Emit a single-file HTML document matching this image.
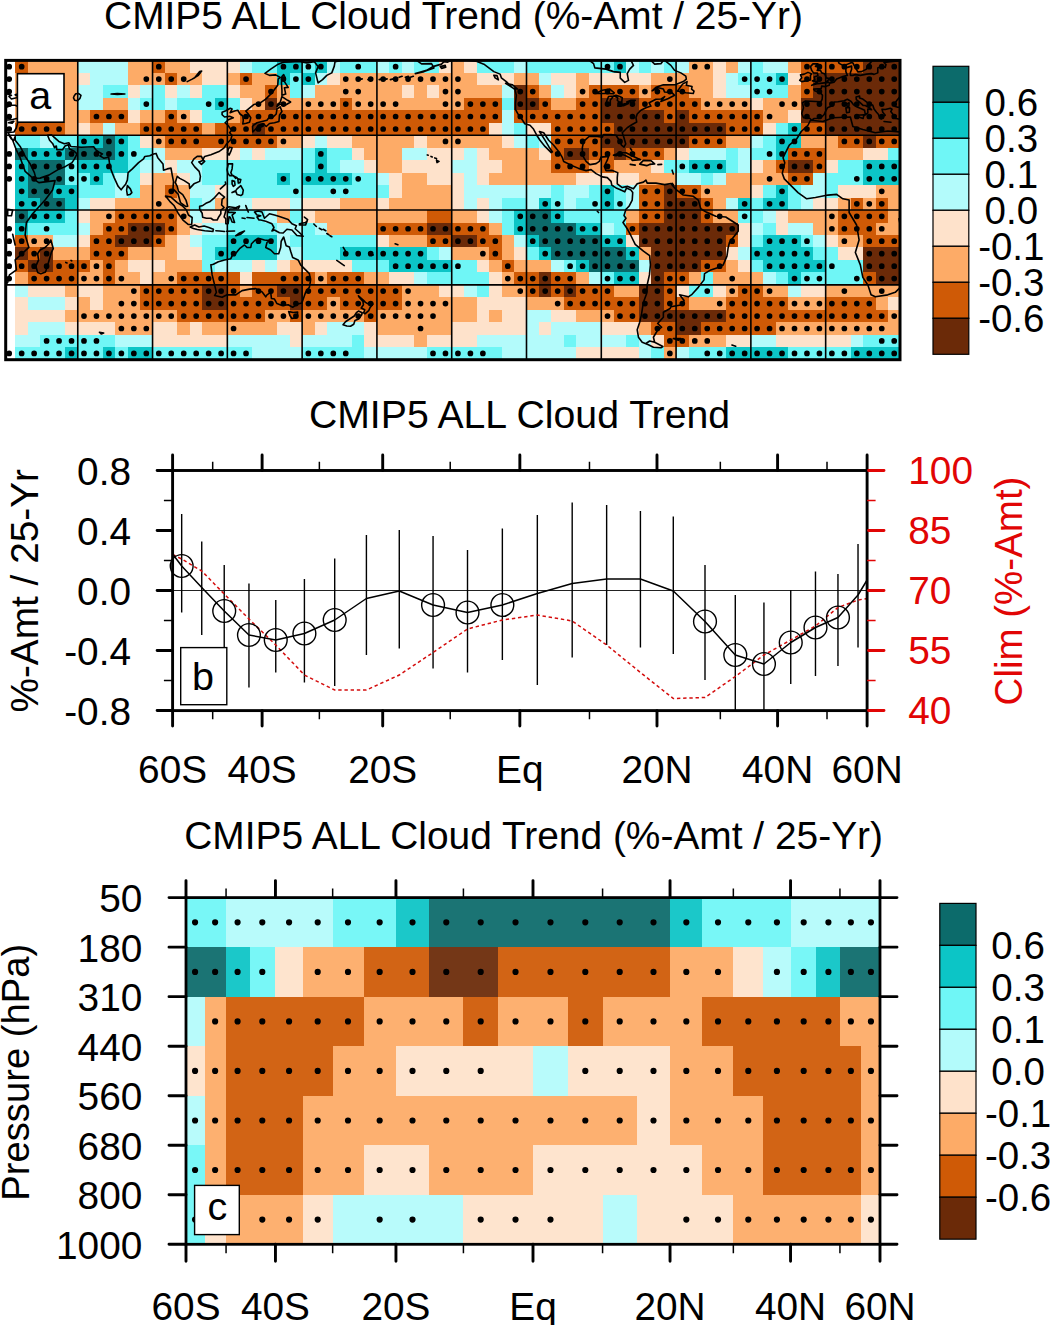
<!DOCTYPE html>
<html><head><meta charset="utf-8"><title>CMIP5 ALL Cloud Trend</title>
<style>html,body{margin:0;padding:0;background:#fff}body{width:1050px;height:1325px;overflow:hidden}svg{display:block}text{font-family:"Liberation Sans",sans-serif;fill:#000}</style></head><body>
<svg width="1050" height="1325" viewBox="0 0 1050 1325">
<rect width="1050" height="1325" fill="#fff"/>
<defs><clipPath id="ca"><rect x="5.7" y="60.4" width="894.3" height="299.3"/></clipPath>
</defs>
<g clip-path="url(#ca)">
<g shape-rendering="crispEdges">
<rect x="15.44" y="60.4" width="12.76" height="12.77" fill="#cf5a06"/>
<rect x="27.9" y="60.4" width="50.16" height="12.77" fill="#fdab67"/>
<rect x="77.76" y="60.4" width="50.16" height="12.77" fill="#b3fbfb"/>
<rect x="127.62" y="60.4" width="25.23" height="12.77" fill="#fdab67"/>
<rect x="152.55" y="60.4" width="12.77" height="12.77" fill="#cf5a06"/>
<rect x="165.01" y="60.4" width="25.23" height="12.77" fill="#fdab67"/>
<rect x="189.94" y="60.4" width="50.16" height="12.77" fill="#fee2cb"/>
<rect x="239.81" y="60.4" width="12.77" height="12.77" fill="#b3fbfb"/>
<rect x="252.27" y="60.4" width="25.23" height="12.77" fill="#6ff6f6"/>
<rect x="277.2" y="60.4" width="25.23" height="12.77" fill="#0cc5c6"/>
<rect x="302.13" y="60.4" width="12.77" height="12.77" fill="#6ff6f6"/>
<rect x="314.6" y="60.4" width="12.76" height="12.77" fill="#0cc5c6"/>
<rect x="327.06" y="60.4" width="12.77" height="12.77" fill="#b3fbfb"/>
<rect x="339.53" y="60.4" width="37.69" height="12.77" fill="#6ff6f6"/>
<rect x="376.92" y="60.4" width="12.77" height="12.77" fill="#b3fbfb"/>
<rect x="389.39" y="60.4" width="12.76" height="12.77" fill="#6ff6f6"/>
<rect x="401.85" y="60.4" width="12.76" height="12.77" fill="#b3fbfb"/>
<rect x="414.31" y="60.4" width="25.23" height="12.77" fill="#6ff6f6"/>
<rect x="439.25" y="60.4" width="12.77" height="12.77" fill="#fee2cb"/>
<rect x="451.71" y="60.4" width="12.76" height="12.77" fill="#fdab67"/>
<rect x="464.18" y="60.4" width="12.77" height="12.77" fill="#fee2cb"/>
<rect x="476.64" y="60.4" width="37.69" height="12.77" fill="#6ff6f6"/>
<rect x="514.03" y="60.4" width="12.77" height="12.77" fill="#b3fbfb"/>
<rect x="526.5" y="60.4" width="87.55" height="12.77" fill="#6ff6f6"/>
<rect x="613.75" y="60.4" width="12.77" height="12.77" fill="#0cc5c6"/>
<rect x="626.22" y="60.4" width="12.77" height="12.77" fill="#b3fbfb"/>
<rect x="638.69" y="60.4" width="12.76" height="12.77" fill="#6ff6f6"/>
<rect x="651.15" y="60.4" width="12.77" height="12.77" fill="#b3fbfb"/>
<rect x="663.62" y="60.4" width="12.77" height="12.77" fill="#6ff6f6"/>
<rect x="676.08" y="60.4" width="12.77" height="12.77" fill="#b3fbfb"/>
<rect x="688.55" y="60.4" width="25.23" height="12.77" fill="#fdab67"/>
<rect x="713.48" y="60.4" width="12.77" height="12.77" fill="#fee2cb"/>
<rect x="725.94" y="60.4" width="12.76" height="12.77" fill="#fdab67"/>
<rect x="738.4" y="60.4" width="12.77" height="12.77" fill="#b3fbfb"/>
<rect x="750.87" y="60.4" width="12.77" height="12.77" fill="#6ff6f6"/>
<rect x="763.34" y="60.4" width="25.23" height="12.77" fill="#b3fbfb"/>
<rect x="788.26" y="60.4" width="12.77" height="12.77" fill="#fdab67"/>
<rect x="800.73" y="60.4" width="62.63" height="12.77" fill="#cf5a06"/>
<rect x="863.06" y="60.4" width="37.69" height="12.77" fill="#6b2a08"/>
<rect x="15.44" y="72.87" width="62.62" height="12.77" fill="#fdab67"/>
<rect x="77.76" y="72.87" width="12.77" height="12.77" fill="#fee2cb"/>
<rect x="90.22" y="72.87" width="37.7" height="12.77" fill="#b3fbfb"/>
<rect x="127.62" y="72.87" width="37.69" height="12.77" fill="#fdab67"/>
<rect x="165.01" y="72.87" width="12.77" height="12.77" fill="#cf5a06"/>
<rect x="177.48" y="72.87" width="25.23" height="12.77" fill="#fdab67"/>
<rect x="202.41" y="72.87" width="25.23" height="12.77" fill="#fee2cb"/>
<rect x="227.34" y="72.87" width="12.77" height="12.77" fill="#fdab67"/>
<rect x="239.81" y="72.87" width="12.77" height="12.77" fill="#cf5a06"/>
<rect x="252.27" y="72.87" width="25.23" height="12.77" fill="#fdab67"/>
<rect x="277.2" y="72.87" width="12.76" height="12.77" fill="#0cc5c6"/>
<rect x="289.67" y="72.87" width="12.76" height="12.77" fill="#6ff6f6"/>
<rect x="302.13" y="72.87" width="12.77" height="12.77" fill="#0cc5c6"/>
<rect x="314.6" y="72.87" width="12.76" height="12.77" fill="#b3fbfb"/>
<rect x="327.06" y="72.87" width="12.77" height="12.77" fill="#fee2cb"/>
<rect x="339.53" y="72.87" width="137.42" height="12.77" fill="#fdab67"/>
<rect x="476.64" y="72.87" width="37.69" height="12.77" fill="#fee2cb"/>
<rect x="514.03" y="72.87" width="25.23" height="12.77" fill="#fdab67"/>
<rect x="538.97" y="72.87" width="12.77" height="12.77" fill="#b3fbfb"/>
<rect x="551.43" y="72.87" width="25.23" height="12.77" fill="#fee2cb"/>
<rect x="576.36" y="72.87" width="12.77" height="12.77" fill="#fdab67"/>
<rect x="588.83" y="72.87" width="62.62" height="12.77" fill="#fee2cb"/>
<rect x="651.15" y="72.87" width="62.63" height="12.77" fill="#fdab67"/>
<rect x="713.48" y="72.87" width="12.77" height="12.77" fill="#fee2cb"/>
<rect x="725.94" y="72.87" width="12.76" height="12.77" fill="#b3fbfb"/>
<rect x="738.4" y="72.87" width="37.7" height="12.77" fill="#6ff6f6"/>
<rect x="775.8" y="72.87" width="12.76" height="12.77" fill="#0cc5c6"/>
<rect x="788.26" y="72.87" width="12.77" height="12.77" fill="#fee2cb"/>
<rect x="800.73" y="72.87" width="12.77" height="12.77" fill="#cf5a06"/>
<rect x="813.2" y="72.87" width="87.55" height="12.77" fill="#6b2a08"/>
<rect x="15.44" y="85.34" width="62.62" height="12.77" fill="#fdab67"/>
<rect x="77.76" y="85.34" width="25.23" height="12.77" fill="#b3fbfb"/>
<rect x="102.69" y="85.34" width="25.23" height="12.77" fill="#6ff6f6"/>
<rect x="127.62" y="85.34" width="12.77" height="12.77" fill="#fee2cb"/>
<rect x="140.09" y="85.34" width="12.76" height="12.77" fill="#b3fbfb"/>
<rect x="152.55" y="85.34" width="12.77" height="12.77" fill="#6ff6f6"/>
<rect x="165.01" y="85.34" width="12.77" height="12.77" fill="#fee2cb"/>
<rect x="177.48" y="85.34" width="12.77" height="12.77" fill="#b3fbfb"/>
<rect x="189.94" y="85.34" width="12.77" height="12.77" fill="#fee2cb"/>
<rect x="202.41" y="85.34" width="25.23" height="12.77" fill="#6ff6f6"/>
<rect x="227.34" y="85.34" width="12.77" height="12.77" fill="#fee2cb"/>
<rect x="239.81" y="85.34" width="25.23" height="12.77" fill="#fdab67"/>
<rect x="264.74" y="85.34" width="12.77" height="12.77" fill="#cf5a06"/>
<rect x="277.2" y="85.34" width="12.76" height="12.77" fill="#fdab67"/>
<rect x="289.67" y="85.34" width="12.76" height="12.77" fill="#6ff6f6"/>
<rect x="302.13" y="85.34" width="12.77" height="12.77" fill="#b3fbfb"/>
<rect x="314.6" y="85.34" width="87.55" height="12.77" fill="#fdab67"/>
<rect x="401.85" y="85.34" width="12.76" height="12.77" fill="#fee2cb"/>
<rect x="414.31" y="85.34" width="12.77" height="12.77" fill="#fdab67"/>
<rect x="426.78" y="85.34" width="12.76" height="12.77" fill="#fee2cb"/>
<rect x="439.25" y="85.34" width="62.63" height="12.77" fill="#fdab67"/>
<rect x="501.57" y="85.34" width="12.76" height="12.77" fill="#b3fbfb"/>
<rect x="514.03" y="85.34" width="12.77" height="12.77" fill="#6b2a08"/>
<rect x="526.5" y="85.34" width="12.77" height="12.77" fill="#cf5a06"/>
<rect x="538.97" y="85.34" width="12.77" height="12.77" fill="#fdab67"/>
<rect x="551.43" y="85.34" width="12.76" height="12.77" fill="#b3fbfb"/>
<rect x="563.89" y="85.34" width="12.77" height="12.77" fill="#fee2cb"/>
<rect x="576.36" y="85.34" width="12.77" height="12.77" fill="#fdab67"/>
<rect x="588.83" y="85.34" width="50.16" height="12.77" fill="#cf5a06"/>
<rect x="638.69" y="85.34" width="12.76" height="12.77" fill="#fdab67"/>
<rect x="651.15" y="85.34" width="37.7" height="12.77" fill="#cf5a06"/>
<rect x="688.55" y="85.34" width="25.23" height="12.77" fill="#fdab67"/>
<rect x="713.48" y="85.34" width="12.77" height="12.77" fill="#fee2cb"/>
<rect x="725.94" y="85.34" width="25.23" height="12.77" fill="#b3fbfb"/>
<rect x="750.87" y="85.34" width="37.69" height="12.77" fill="#6ff6f6"/>
<rect x="788.26" y="85.34" width="12.77" height="12.77" fill="#fdab67"/>
<rect x="800.73" y="85.34" width="12.77" height="12.77" fill="#cf5a06"/>
<rect x="813.2" y="85.34" width="87.55" height="12.77" fill="#6b2a08"/>
<rect x="15.44" y="97.81" width="62.62" height="12.77" fill="#fdab67"/>
<rect x="77.76" y="97.81" width="25.23" height="12.77" fill="#b3fbfb"/>
<rect x="102.69" y="97.81" width="25.23" height="12.77" fill="#fdab67"/>
<rect x="127.62" y="97.81" width="12.77" height="12.77" fill="#b3fbfb"/>
<rect x="140.09" y="97.81" width="25.23" height="12.77" fill="#6ff6f6"/>
<rect x="165.01" y="97.81" width="12.77" height="12.77" fill="#b3fbfb"/>
<rect x="177.48" y="97.81" width="37.7" height="12.77" fill="#6ff6f6"/>
<rect x="214.88" y="97.81" width="12.77" height="12.77" fill="#0cc5c6"/>
<rect x="227.34" y="97.81" width="12.77" height="12.77" fill="#6ff6f6"/>
<rect x="239.81" y="97.81" width="12.77" height="12.77" fill="#fee2cb"/>
<rect x="252.27" y="97.81" width="12.77" height="12.77" fill="#fdab67"/>
<rect x="264.74" y="97.81" width="12.77" height="12.77" fill="#6b2a08"/>
<rect x="277.2" y="97.81" width="62.62" height="12.77" fill="#fdab67"/>
<rect x="339.53" y="97.81" width="12.76" height="12.77" fill="#cf5a06"/>
<rect x="351.99" y="97.81" width="112.48" height="12.77" fill="#fdab67"/>
<rect x="464.18" y="97.81" width="37.7" height="12.77" fill="#cf5a06"/>
<rect x="501.57" y="97.81" width="12.76" height="12.77" fill="#6ff6f6"/>
<rect x="514.03" y="97.81" width="25.23" height="12.77" fill="#6b2a08"/>
<rect x="538.97" y="97.81" width="12.77" height="12.77" fill="#cf5a06"/>
<rect x="551.43" y="97.81" width="25.23" height="12.77" fill="#fdab67"/>
<rect x="576.36" y="97.81" width="25.23" height="12.77" fill="#cf5a06"/>
<rect x="601.29" y="97.81" width="37.7" height="12.77" fill="#6b2a08"/>
<rect x="638.69" y="97.81" width="62.62" height="12.77" fill="#cf5a06"/>
<rect x="701.01" y="97.81" width="50.16" height="12.77" fill="#fdab67"/>
<rect x="750.87" y="97.81" width="12.77" height="12.77" fill="#fee2cb"/>
<rect x="763.34" y="97.81" width="37.69" height="12.77" fill="#fdab67"/>
<rect x="800.73" y="97.81" width="100.02" height="12.77" fill="#6b2a08"/>
<rect x="15.44" y="110.28" width="75.09" height="12.77" fill="#fdab67"/>
<rect x="90.22" y="110.28" width="37.7" height="12.77" fill="#cf5a06"/>
<rect x="127.62" y="110.28" width="12.77" height="12.77" fill="#fee2cb"/>
<rect x="140.09" y="110.28" width="25.23" height="12.77" fill="#fdab67"/>
<rect x="165.01" y="110.28" width="12.77" height="12.77" fill="#cf5a06"/>
<rect x="177.48" y="110.28" width="12.77" height="12.77" fill="#fdab67"/>
<rect x="189.94" y="110.28" width="12.77" height="12.77" fill="#fee2cb"/>
<rect x="202.41" y="110.28" width="25.23" height="12.77" fill="#6ff6f6"/>
<rect x="227.34" y="110.28" width="12.77" height="12.77" fill="#fdab67"/>
<rect x="239.81" y="110.28" width="262.07" height="12.77" fill="#cf5a06"/>
<rect x="501.57" y="110.28" width="12.76" height="12.77" fill="#b3fbfb"/>
<rect x="514.03" y="110.28" width="87.55" height="12.77" fill="#cf5a06"/>
<rect x="601.29" y="110.28" width="62.63" height="12.77" fill="#6b2a08"/>
<rect x="663.62" y="110.28" width="12.77" height="12.77" fill="#cf5a06"/>
<rect x="676.08" y="110.28" width="12.77" height="12.77" fill="#6b2a08"/>
<rect x="688.55" y="110.28" width="75.09" height="12.77" fill="#cf5a06"/>
<rect x="763.34" y="110.28" width="25.23" height="12.77" fill="#fdab67"/>
<rect x="788.26" y="110.28" width="12.77" height="12.77" fill="#fee2cb"/>
<rect x="800.73" y="110.28" width="100.02" height="12.77" fill="#6b2a08"/>
<rect x="15.44" y="122.75" width="50.16" height="12.77" fill="#cf5a06"/>
<rect x="65.3" y="122.75" width="12.76" height="12.77" fill="#fdab67"/>
<rect x="77.76" y="122.75" width="12.77" height="12.77" fill="#fee2cb"/>
<rect x="90.22" y="122.75" width="12.77" height="12.77" fill="#fdab67"/>
<rect x="102.69" y="122.75" width="12.77" height="12.77" fill="#b3fbfb"/>
<rect x="115.16" y="122.75" width="25.23" height="12.77" fill="#fdab67"/>
<rect x="140.09" y="122.75" width="62.62" height="12.77" fill="#cf5a06"/>
<rect x="202.41" y="122.75" width="12.77" height="12.77" fill="#fdab67"/>
<rect x="214.88" y="122.75" width="37.7" height="12.77" fill="#cf5a06"/>
<rect x="252.27" y="122.75" width="12.77" height="12.77" fill="#6b2a08"/>
<rect x="264.74" y="122.75" width="224.67" height="12.77" fill="#cf5a06"/>
<rect x="489.11" y="122.75" width="12.77" height="12.77" fill="#fee2cb"/>
<rect x="501.57" y="122.75" width="12.76" height="12.77" fill="#b3fbfb"/>
<rect x="514.03" y="122.75" width="12.77" height="12.77" fill="#6ff6f6"/>
<rect x="526.5" y="122.75" width="25.23" height="12.77" fill="#fee2cb"/>
<rect x="551.43" y="122.75" width="62.62" height="12.77" fill="#cf5a06"/>
<rect x="613.75" y="122.75" width="112.49" height="12.77" fill="#6b2a08"/>
<rect x="725.94" y="122.75" width="37.69" height="12.77" fill="#cf5a06"/>
<rect x="763.34" y="122.75" width="12.77" height="12.77" fill="#fee2cb"/>
<rect x="775.8" y="122.75" width="12.76" height="12.77" fill="#6ff6f6"/>
<rect x="788.26" y="122.75" width="12.77" height="12.77" fill="#0cc5c6"/>
<rect x="800.73" y="122.75" width="25.23" height="12.77" fill="#cf5a06"/>
<rect x="825.66" y="122.75" width="75.09" height="12.77" fill="#6b2a08"/>
<rect x="15.44" y="135.22" width="25.23" height="12.77" fill="#6ff6f6"/>
<rect x="40.36" y="135.22" width="12.77" height="12.77" fill="#b3fbfb"/>
<rect x="52.83" y="135.22" width="25.23" height="12.77" fill="#6ff6f6"/>
<rect x="77.76" y="135.22" width="25.23" height="12.77" fill="#0cc5c6"/>
<rect x="102.69" y="135.22" width="12.77" height="12.77" fill="#0c6b6b"/>
<rect x="115.16" y="135.22" width="12.77" height="12.77" fill="#0cc5c6"/>
<rect x="127.62" y="135.22" width="12.77" height="12.77" fill="#6ff6f6"/>
<rect x="140.09" y="135.22" width="12.76" height="12.77" fill="#fee2cb"/>
<rect x="152.55" y="135.22" width="12.77" height="12.77" fill="#fdab67"/>
<rect x="165.01" y="135.22" width="112.49" height="12.77" fill="#cf5a06"/>
<rect x="277.2" y="135.22" width="25.23" height="12.77" fill="#fdab67"/>
<rect x="302.13" y="135.22" width="12.77" height="12.77" fill="#fee2cb"/>
<rect x="314.6" y="135.22" width="12.76" height="12.77" fill="#b3fbfb"/>
<rect x="327.06" y="135.22" width="25.23" height="12.77" fill="#fee2cb"/>
<rect x="351.99" y="135.22" width="62.62" height="12.77" fill="#fdab67"/>
<rect x="414.31" y="135.22" width="12.77" height="12.77" fill="#fee2cb"/>
<rect x="426.78" y="135.22" width="75.09" height="12.77" fill="#fdab67"/>
<rect x="501.57" y="135.22" width="12.76" height="12.77" fill="#fee2cb"/>
<rect x="514.03" y="135.22" width="12.77" height="12.77" fill="#b3fbfb"/>
<rect x="526.5" y="135.22" width="12.77" height="12.77" fill="#6ff6f6"/>
<rect x="538.97" y="135.22" width="12.77" height="12.77" fill="#b3fbfb"/>
<rect x="551.43" y="135.22" width="50.16" height="12.77" fill="#cf5a06"/>
<rect x="601.29" y="135.22" width="87.56" height="12.77" fill="#6b2a08"/>
<rect x="688.55" y="135.22" width="37.69" height="12.77" fill="#cf5a06"/>
<rect x="725.94" y="135.22" width="25.23" height="12.77" fill="#fdab67"/>
<rect x="750.87" y="135.22" width="12.77" height="12.77" fill="#b3fbfb"/>
<rect x="763.34" y="135.22" width="12.77" height="12.77" fill="#6ff6f6"/>
<rect x="775.8" y="135.22" width="25.23" height="12.77" fill="#0cc5c6"/>
<rect x="800.73" y="135.22" width="37.69" height="12.77" fill="#fdab67"/>
<rect x="838.12" y="135.22" width="25.23" height="12.77" fill="#cf5a06"/>
<rect x="863.06" y="135.22" width="12.76" height="12.77" fill="#6b2a08"/>
<rect x="875.52" y="135.22" width="25.23" height="12.77" fill="#cf5a06"/>
<rect x="15.44" y="147.69" width="12.76" height="12.77" fill="#0c6b6b"/>
<rect x="27.9" y="147.69" width="37.7" height="12.77" fill="#0cc5c6"/>
<rect x="65.3" y="147.69" width="50.16" height="12.77" fill="#0c6b6b"/>
<rect x="115.16" y="147.69" width="12.77" height="12.77" fill="#0cc5c6"/>
<rect x="127.62" y="147.69" width="25.23" height="12.77" fill="#6ff6f6"/>
<rect x="152.55" y="147.69" width="12.77" height="12.77" fill="#b3fbfb"/>
<rect x="165.01" y="147.69" width="37.7" height="12.77" fill="#fdab67"/>
<rect x="202.41" y="147.69" width="37.7" height="12.77" fill="#fee2cb"/>
<rect x="239.81" y="147.69" width="12.77" height="12.77" fill="#b3fbfb"/>
<rect x="252.27" y="147.69" width="12.77" height="12.77" fill="#fee2cb"/>
<rect x="264.74" y="147.69" width="37.69" height="12.77" fill="#b3fbfb"/>
<rect x="302.13" y="147.69" width="12.77" height="12.77" fill="#6ff6f6"/>
<rect x="314.6" y="147.69" width="12.76" height="12.77" fill="#0cc5c6"/>
<rect x="327.06" y="147.69" width="25.23" height="12.77" fill="#6ff6f6"/>
<rect x="351.99" y="147.69" width="12.77" height="12.77" fill="#fee2cb"/>
<rect x="364.46" y="147.69" width="37.69" height="12.77" fill="#fdab67"/>
<rect x="401.85" y="147.69" width="25.23" height="12.77" fill="#b3fbfb"/>
<rect x="426.78" y="147.69" width="37.69" height="12.77" fill="#fee2cb"/>
<rect x="464.18" y="147.69" width="12.77" height="12.77" fill="#b3fbfb"/>
<rect x="476.64" y="147.69" width="12.76" height="12.77" fill="#fee2cb"/>
<rect x="489.11" y="147.69" width="50.16" height="12.77" fill="#fdab67"/>
<rect x="538.97" y="147.69" width="12.77" height="12.77" fill="#fee2cb"/>
<rect x="551.43" y="147.69" width="12.76" height="12.77" fill="#cf5a06"/>
<rect x="563.89" y="147.69" width="25.23" height="12.77" fill="#6b2a08"/>
<rect x="588.83" y="147.69" width="25.23" height="12.77" fill="#cf5a06"/>
<rect x="613.75" y="147.69" width="12.77" height="12.77" fill="#6b2a08"/>
<rect x="626.22" y="147.69" width="37.69" height="12.77" fill="#cf5a06"/>
<rect x="663.62" y="147.69" width="12.77" height="12.77" fill="#fdab67"/>
<rect x="676.08" y="147.69" width="12.77" height="12.77" fill="#fee2cb"/>
<rect x="688.55" y="147.69" width="37.69" height="12.77" fill="#b3fbfb"/>
<rect x="725.94" y="147.69" width="12.76" height="12.77" fill="#6ff6f6"/>
<rect x="738.4" y="147.69" width="12.77" height="12.77" fill="#b3fbfb"/>
<rect x="750.87" y="147.69" width="25.23" height="12.77" fill="#6ff6f6"/>
<rect x="775.8" y="147.69" width="12.76" height="12.77" fill="#0cc5c6"/>
<rect x="788.26" y="147.69" width="37.69" height="12.77" fill="#cf5a06"/>
<rect x="825.66" y="147.69" width="37.7" height="12.77" fill="#fdab67"/>
<rect x="863.06" y="147.69" width="25.23" height="12.77" fill="#fee2cb"/>
<rect x="887.99" y="147.69" width="12.77" height="12.77" fill="#6ff6f6"/>
<rect x="15.44" y="160.16" width="12.76" height="12.77" fill="#0cc5c6"/>
<rect x="27.9" y="160.16" width="37.7" height="12.77" fill="#0c6b6b"/>
<rect x="65.3" y="160.16" width="12.76" height="12.77" fill="#6ff6f6"/>
<rect x="77.76" y="160.16" width="50.16" height="12.77" fill="#0cc5c6"/>
<rect x="127.62" y="160.16" width="12.77" height="12.77" fill="#6ff6f6"/>
<rect x="140.09" y="160.16" width="25.23" height="12.77" fill="#b3fbfb"/>
<rect x="165.01" y="160.16" width="12.77" height="12.77" fill="#fee2cb"/>
<rect x="177.48" y="160.16" width="25.23" height="12.77" fill="#b3fbfb"/>
<rect x="202.41" y="160.16" width="112.49" height="12.77" fill="#6ff6f6"/>
<rect x="314.6" y="160.16" width="12.76" height="12.77" fill="#0cc5c6"/>
<rect x="327.06" y="160.16" width="12.77" height="12.77" fill="#6ff6f6"/>
<rect x="339.53" y="160.16" width="25.23" height="12.77" fill="#b3fbfb"/>
<rect x="364.46" y="160.16" width="12.76" height="12.77" fill="#fee2cb"/>
<rect x="376.92" y="160.16" width="25.23" height="12.77" fill="#fdab67"/>
<rect x="401.85" y="160.16" width="50.16" height="12.77" fill="#fee2cb"/>
<rect x="451.71" y="160.16" width="25.23" height="12.77" fill="#b3fbfb"/>
<rect x="476.64" y="160.16" width="25.23" height="12.77" fill="#fee2cb"/>
<rect x="501.57" y="160.16" width="50.16" height="12.77" fill="#fdab67"/>
<rect x="551.43" y="160.16" width="37.69" height="12.77" fill="#cf5a06"/>
<rect x="588.83" y="160.16" width="12.76" height="12.77" fill="#fdab67"/>
<rect x="601.29" y="160.16" width="12.77" height="12.77" fill="#cf5a06"/>
<rect x="613.75" y="160.16" width="37.69" height="12.77" fill="#fdab67"/>
<rect x="651.15" y="160.16" width="12.77" height="12.77" fill="#fee2cb"/>
<rect x="663.62" y="160.16" width="25.23" height="12.77" fill="#6ff6f6"/>
<rect x="688.55" y="160.16" width="37.69" height="12.77" fill="#0cc5c6"/>
<rect x="725.94" y="160.16" width="12.76" height="12.77" fill="#6ff6f6"/>
<rect x="738.4" y="160.16" width="12.77" height="12.77" fill="#b3fbfb"/>
<rect x="750.87" y="160.16" width="12.77" height="12.77" fill="#fee2cb"/>
<rect x="763.34" y="160.16" width="12.77" height="12.77" fill="#fdab67"/>
<rect x="775.8" y="160.16" width="12.76" height="12.77" fill="#cf5a06"/>
<rect x="788.26" y="160.16" width="25.23" height="12.77" fill="#6b2a08"/>
<rect x="813.2" y="160.16" width="12.76" height="12.77" fill="#cf5a06"/>
<rect x="825.66" y="160.16" width="12.77" height="12.77" fill="#fee2cb"/>
<rect x="838.12" y="160.16" width="25.23" height="12.77" fill="#6ff6f6"/>
<rect x="863.06" y="160.16" width="37.69" height="12.77" fill="#0cc5c6"/>
<rect x="15.44" y="172.63" width="12.76" height="12.77" fill="#0cc5c6"/>
<rect x="27.9" y="172.63" width="37.7" height="12.77" fill="#0c6b6b"/>
<rect x="65.3" y="172.63" width="25.23" height="12.77" fill="#6ff6f6"/>
<rect x="90.22" y="172.63" width="12.77" height="12.77" fill="#0cc5c6"/>
<rect x="102.69" y="172.63" width="12.77" height="12.77" fill="#6ff6f6"/>
<rect x="115.16" y="172.63" width="12.77" height="12.77" fill="#b3fbfb"/>
<rect x="127.62" y="172.63" width="12.77" height="12.77" fill="#6ff6f6"/>
<rect x="140.09" y="172.63" width="12.76" height="12.77" fill="#fee2cb"/>
<rect x="152.55" y="172.63" width="25.23" height="12.77" fill="#fdab67"/>
<rect x="177.48" y="172.63" width="12.77" height="12.77" fill="#fee2cb"/>
<rect x="189.94" y="172.63" width="12.77" height="12.77" fill="#b3fbfb"/>
<rect x="202.41" y="172.63" width="75.09" height="12.77" fill="#6ff6f6"/>
<rect x="277.2" y="172.63" width="12.76" height="12.77" fill="#0cc5c6"/>
<rect x="289.67" y="172.63" width="12.76" height="12.77" fill="#6ff6f6"/>
<rect x="302.13" y="172.63" width="50.16" height="12.77" fill="#0cc5c6"/>
<rect x="351.99" y="172.63" width="25.23" height="12.77" fill="#6ff6f6"/>
<rect x="376.92" y="172.63" width="12.77" height="12.77" fill="#b3fbfb"/>
<rect x="389.39" y="172.63" width="12.76" height="12.77" fill="#fee2cb"/>
<rect x="401.85" y="172.63" width="25.23" height="12.77" fill="#fdab67"/>
<rect x="426.78" y="172.63" width="37.69" height="12.77" fill="#fee2cb"/>
<rect x="464.18" y="172.63" width="12.77" height="12.77" fill="#b3fbfb"/>
<rect x="476.64" y="172.63" width="12.76" height="12.77" fill="#fee2cb"/>
<rect x="489.11" y="172.63" width="87.55" height="12.77" fill="#fdab67"/>
<rect x="576.36" y="172.63" width="62.63" height="12.77" fill="#fee2cb"/>
<rect x="638.69" y="172.63" width="37.69" height="12.77" fill="#fdab67"/>
<rect x="676.08" y="172.63" width="25.23" height="12.77" fill="#b3fbfb"/>
<rect x="701.01" y="172.63" width="12.77" height="12.77" fill="#6ff6f6"/>
<rect x="713.48" y="172.63" width="12.77" height="12.77" fill="#b3fbfb"/>
<rect x="725.94" y="172.63" width="62.62" height="12.77" fill="#fdab67"/>
<rect x="788.26" y="172.63" width="25.23" height="12.77" fill="#cf5a06"/>
<rect x="813.2" y="172.63" width="12.76" height="12.77" fill="#b3fbfb"/>
<rect x="825.66" y="172.63" width="37.7" height="12.77" fill="#6ff6f6"/>
<rect x="863.06" y="172.63" width="37.69" height="12.77" fill="#0cc5c6"/>
<rect x="15.44" y="185.1" width="12.76" height="12.77" fill="#0cc5c6"/>
<rect x="27.9" y="185.1" width="25.23" height="12.77" fill="#0c6b6b"/>
<rect x="52.83" y="185.1" width="25.23" height="12.77" fill="#0cc5c6"/>
<rect x="77.76" y="185.1" width="37.7" height="12.77" fill="#6ff6f6"/>
<rect x="115.16" y="185.1" width="12.77" height="12.77" fill="#b3fbfb"/>
<rect x="127.62" y="185.1" width="12.77" height="12.77" fill="#6ff6f6"/>
<rect x="140.09" y="185.1" width="25.23" height="12.77" fill="#fdab67"/>
<rect x="165.01" y="185.1" width="12.77" height="12.77" fill="#cf5a06"/>
<rect x="177.48" y="185.1" width="12.77" height="12.77" fill="#fdab67"/>
<rect x="189.94" y="185.1" width="25.23" height="12.77" fill="#b3fbfb"/>
<rect x="214.88" y="185.1" width="12.77" height="12.77" fill="#fee2cb"/>
<rect x="227.34" y="185.1" width="12.77" height="12.77" fill="#b3fbfb"/>
<rect x="239.81" y="185.1" width="149.88" height="12.77" fill="#6ff6f6"/>
<rect x="389.39" y="185.1" width="12.76" height="12.77" fill="#fee2cb"/>
<rect x="401.85" y="185.1" width="50.16" height="12.77" fill="#fdab67"/>
<rect x="451.71" y="185.1" width="12.76" height="12.77" fill="#fee2cb"/>
<rect x="464.18" y="185.1" width="87.56" height="12.77" fill="#b3fbfb"/>
<rect x="551.43" y="185.1" width="12.76" height="12.77" fill="#6ff6f6"/>
<rect x="563.89" y="185.1" width="25.23" height="12.77" fill="#b3fbfb"/>
<rect x="588.83" y="185.1" width="12.76" height="12.77" fill="#6ff6f6"/>
<rect x="601.29" y="185.1" width="12.77" height="12.77" fill="#0cc5c6"/>
<rect x="613.75" y="185.1" width="12.77" height="12.77" fill="#6ff6f6"/>
<rect x="626.22" y="185.1" width="12.77" height="12.77" fill="#b3fbfb"/>
<rect x="638.69" y="185.1" width="25.23" height="12.77" fill="#cf5a06"/>
<rect x="663.62" y="185.1" width="12.77" height="12.77" fill="#6b2a08"/>
<rect x="676.08" y="185.1" width="25.23" height="12.77" fill="#cf5a06"/>
<rect x="701.01" y="185.1" width="50.16" height="12.77" fill="#fdab67"/>
<rect x="750.87" y="185.1" width="12.77" height="12.77" fill="#fee2cb"/>
<rect x="763.34" y="185.1" width="12.77" height="12.77" fill="#6ff6f6"/>
<rect x="775.8" y="185.1" width="12.76" height="12.77" fill="#0cc5c6"/>
<rect x="788.26" y="185.1" width="12.77" height="12.77" fill="#6ff6f6"/>
<rect x="800.73" y="185.1" width="25.23" height="12.77" fill="#b3fbfb"/>
<rect x="825.66" y="185.1" width="12.77" height="12.77" fill="#6ff6f6"/>
<rect x="838.12" y="185.1" width="37.69" height="12.77" fill="#fee2cb"/>
<rect x="875.52" y="185.1" width="25.23" height="12.77" fill="#fdab67"/>
<rect x="15.44" y="197.57" width="25.23" height="12.77" fill="#0cc5c6"/>
<rect x="40.36" y="197.57" width="25.23" height="12.77" fill="#0c6b6b"/>
<rect x="65.3" y="197.57" width="12.76" height="12.77" fill="#0cc5c6"/>
<rect x="77.76" y="197.57" width="12.77" height="12.77" fill="#b3fbfb"/>
<rect x="90.22" y="197.57" width="25.23" height="12.77" fill="#fee2cb"/>
<rect x="115.16" y="197.57" width="75.09" height="12.77" fill="#fdab67"/>
<rect x="189.94" y="197.57" width="12.77" height="12.77" fill="#6ff6f6"/>
<rect x="202.41" y="197.57" width="12.77" height="12.77" fill="#b3fbfb"/>
<rect x="214.88" y="197.57" width="12.77" height="12.77" fill="#fdab67"/>
<rect x="227.34" y="197.57" width="25.23" height="12.77" fill="#b3fbfb"/>
<rect x="252.27" y="197.57" width="37.7" height="12.77" fill="#fee2cb"/>
<rect x="289.67" y="197.57" width="12.76" height="12.77" fill="#b3fbfb"/>
<rect x="302.13" y="197.57" width="37.7" height="12.77" fill="#fee2cb"/>
<rect x="339.53" y="197.57" width="37.69" height="12.77" fill="#fdab67"/>
<rect x="376.92" y="197.57" width="12.77" height="12.77" fill="#fee2cb"/>
<rect x="389.39" y="197.57" width="62.62" height="12.77" fill="#fdab67"/>
<rect x="451.71" y="197.57" width="12.76" height="12.77" fill="#fee2cb"/>
<rect x="464.18" y="197.57" width="12.77" height="12.77" fill="#b3fbfb"/>
<rect x="476.64" y="197.57" width="12.76" height="12.77" fill="#fee2cb"/>
<rect x="489.11" y="197.57" width="12.77" height="12.77" fill="#b3fbfb"/>
<rect x="501.57" y="197.57" width="25.23" height="12.77" fill="#6ff6f6"/>
<rect x="526.5" y="197.57" width="12.77" height="12.77" fill="#b3fbfb"/>
<rect x="538.97" y="197.57" width="12.77" height="12.77" fill="#0cc5c6"/>
<rect x="551.43" y="197.57" width="12.76" height="12.77" fill="#6ff6f6"/>
<rect x="563.89" y="197.57" width="12.77" height="12.77" fill="#b3fbfb"/>
<rect x="576.36" y="197.57" width="25.23" height="12.77" fill="#6ff6f6"/>
<rect x="601.29" y="197.57" width="12.77" height="12.77" fill="#0cc5c6"/>
<rect x="613.75" y="197.57" width="12.77" height="12.77" fill="#6ff6f6"/>
<rect x="626.22" y="197.57" width="12.77" height="12.77" fill="#b3fbfb"/>
<rect x="638.69" y="197.57" width="25.23" height="12.77" fill="#cf5a06"/>
<rect x="663.62" y="197.57" width="37.69" height="12.77" fill="#6b2a08"/>
<rect x="701.01" y="197.57" width="12.77" height="12.77" fill="#cf5a06"/>
<rect x="713.48" y="197.57" width="12.77" height="12.77" fill="#fdab67"/>
<rect x="725.94" y="197.57" width="12.76" height="12.77" fill="#b3fbfb"/>
<rect x="738.4" y="197.57" width="12.77" height="12.77" fill="#0cc5c6"/>
<rect x="750.87" y="197.57" width="12.77" height="12.77" fill="#6ff6f6"/>
<rect x="763.34" y="197.57" width="25.23" height="12.77" fill="#0cc5c6"/>
<rect x="788.26" y="197.57" width="12.77" height="12.77" fill="#6ff6f6"/>
<rect x="800.73" y="197.57" width="12.77" height="12.77" fill="#b3fbfb"/>
<rect x="813.2" y="197.57" width="25.23" height="12.77" fill="#fee2cb"/>
<rect x="838.12" y="197.57" width="12.77" height="12.77" fill="#fdab67"/>
<rect x="850.59" y="197.57" width="12.77" height="12.77" fill="#cf5a06"/>
<rect x="863.06" y="197.57" width="12.76" height="12.77" fill="#fdab67"/>
<rect x="875.52" y="197.57" width="12.77" height="12.77" fill="#cf5a06"/>
<rect x="887.99" y="197.57" width="12.77" height="12.77" fill="#fdab67"/>
<rect x="15.44" y="210.04" width="12.76" height="12.77" fill="#0c6b6b"/>
<rect x="27.9" y="210.04" width="37.7" height="12.77" fill="#0cc5c6"/>
<rect x="65.3" y="210.04" width="12.76" height="12.77" fill="#6ff6f6"/>
<rect x="77.76" y="210.04" width="12.77" height="12.77" fill="#fee2cb"/>
<rect x="90.22" y="210.04" width="25.23" height="12.77" fill="#fdab67"/>
<rect x="115.16" y="210.04" width="62.62" height="12.77" fill="#cf5a06"/>
<rect x="177.48" y="210.04" width="12.77" height="12.77" fill="#fdab67"/>
<rect x="189.94" y="210.04" width="12.77" height="12.77" fill="#b3fbfb"/>
<rect x="202.41" y="210.04" width="25.23" height="12.77" fill="#fee2cb"/>
<rect x="227.34" y="210.04" width="37.7" height="12.77" fill="#6ff6f6"/>
<rect x="264.74" y="210.04" width="12.77" height="12.77" fill="#b3fbfb"/>
<rect x="277.2" y="210.04" width="12.76" height="12.77" fill="#fdab67"/>
<rect x="289.67" y="210.04" width="12.76" height="12.77" fill="#6ff6f6"/>
<rect x="302.13" y="210.04" width="12.77" height="12.77" fill="#fee2cb"/>
<rect x="314.6" y="210.04" width="112.48" height="12.77" fill="#fdab67"/>
<rect x="426.78" y="210.04" width="25.23" height="12.77" fill="#cf5a06"/>
<rect x="451.71" y="210.04" width="25.23" height="12.77" fill="#fdab67"/>
<rect x="476.64" y="210.04" width="12.76" height="12.77" fill="#fee2cb"/>
<rect x="489.11" y="210.04" width="12.77" height="12.77" fill="#b3fbfb"/>
<rect x="501.57" y="210.04" width="12.76" height="12.77" fill="#6ff6f6"/>
<rect x="514.03" y="210.04" width="12.77" height="12.77" fill="#0cc5c6"/>
<rect x="526.5" y="210.04" width="25.23" height="12.77" fill="#0c6b6b"/>
<rect x="551.43" y="210.04" width="12.76" height="12.77" fill="#0cc5c6"/>
<rect x="563.89" y="210.04" width="62.63" height="12.77" fill="#6ff6f6"/>
<rect x="626.22" y="210.04" width="12.77" height="12.77" fill="#fdab67"/>
<rect x="638.69" y="210.04" width="25.23" height="12.77" fill="#cf5a06"/>
<rect x="663.62" y="210.04" width="37.69" height="12.77" fill="#6b2a08"/>
<rect x="701.01" y="210.04" width="12.77" height="12.77" fill="#cf5a06"/>
<rect x="713.48" y="210.04" width="25.23" height="12.77" fill="#fdab67"/>
<rect x="738.4" y="210.04" width="25.23" height="12.77" fill="#6ff6f6"/>
<rect x="763.34" y="210.04" width="12.77" height="12.77" fill="#b3fbfb"/>
<rect x="775.8" y="210.04" width="12.76" height="12.77" fill="#fee2cb"/>
<rect x="788.26" y="210.04" width="50.16" height="12.77" fill="#fdab67"/>
<rect x="838.12" y="210.04" width="50.16" height="12.77" fill="#cf5a06"/>
<rect x="887.99" y="210.04" width="12.77" height="12.77" fill="#fdab67"/>
<rect x="15.44" y="222.51" width="12.76" height="12.77" fill="#0cc5c6"/>
<rect x="27.9" y="222.51" width="50.16" height="12.77" fill="#6ff6f6"/>
<rect x="77.76" y="222.51" width="12.77" height="12.77" fill="#b3fbfb"/>
<rect x="90.22" y="222.51" width="12.77" height="12.77" fill="#fdab67"/>
<rect x="102.69" y="222.51" width="25.23" height="12.77" fill="#cf5a06"/>
<rect x="127.62" y="222.51" width="37.69" height="12.77" fill="#6b2a08"/>
<rect x="165.01" y="222.51" width="12.77" height="12.77" fill="#cf5a06"/>
<rect x="177.48" y="222.51" width="12.77" height="12.77" fill="#fdab67"/>
<rect x="189.94" y="222.51" width="12.77" height="12.77" fill="#fee2cb"/>
<rect x="202.41" y="222.51" width="25.23" height="12.77" fill="#b3fbfb"/>
<rect x="227.34" y="222.51" width="50.16" height="12.77" fill="#6ff6f6"/>
<rect x="277.2" y="222.51" width="25.23" height="12.77" fill="#b3fbfb"/>
<rect x="302.13" y="222.51" width="12.77" height="12.77" fill="#6ff6f6"/>
<rect x="314.6" y="222.51" width="12.76" height="12.77" fill="#b3fbfb"/>
<rect x="327.06" y="222.51" width="50.16" height="12.77" fill="#fdab67"/>
<rect x="376.92" y="222.51" width="50.16" height="12.77" fill="#cf5a06"/>
<rect x="426.78" y="222.51" width="25.23" height="12.77" fill="#6b2a08"/>
<rect x="451.71" y="222.51" width="37.69" height="12.77" fill="#cf5a06"/>
<rect x="489.11" y="222.51" width="12.77" height="12.77" fill="#fdab67"/>
<rect x="501.57" y="222.51" width="12.76" height="12.77" fill="#6ff6f6"/>
<rect x="514.03" y="222.51" width="12.77" height="12.77" fill="#0cc5c6"/>
<rect x="526.5" y="222.51" width="50.16" height="12.77" fill="#0c6b6b"/>
<rect x="576.36" y="222.51" width="25.23" height="12.77" fill="#0cc5c6"/>
<rect x="601.29" y="222.51" width="12.77" height="12.77" fill="#b3fbfb"/>
<rect x="613.75" y="222.51" width="12.77" height="12.77" fill="#6ff6f6"/>
<rect x="626.22" y="222.51" width="12.77" height="12.77" fill="#cf5a06"/>
<rect x="638.69" y="222.51" width="100.02" height="12.77" fill="#6b2a08"/>
<rect x="738.4" y="222.51" width="12.77" height="12.77" fill="#fee2cb"/>
<rect x="750.87" y="222.51" width="12.77" height="12.77" fill="#b3fbfb"/>
<rect x="763.34" y="222.51" width="12.77" height="12.77" fill="#6ff6f6"/>
<rect x="775.8" y="222.51" width="12.76" height="12.77" fill="#fee2cb"/>
<rect x="788.26" y="222.51" width="25.23" height="12.77" fill="#b3fbfb"/>
<rect x="813.2" y="222.51" width="25.23" height="12.77" fill="#fdab67"/>
<rect x="838.12" y="222.51" width="37.69" height="12.77" fill="#cf5a06"/>
<rect x="875.52" y="222.51" width="25.23" height="12.77" fill="#fdab67"/>
<rect x="15.44" y="234.98" width="12.76" height="12.77" fill="#cf5a06"/>
<rect x="27.9" y="234.98" width="25.23" height="12.77" fill="#fdab67"/>
<rect x="52.83" y="234.98" width="25.23" height="12.77" fill="#b3fbfb"/>
<rect x="77.76" y="234.98" width="12.77" height="12.77" fill="#fee2cb"/>
<rect x="90.22" y="234.98" width="25.23" height="12.77" fill="#cf5a06"/>
<rect x="115.16" y="234.98" width="37.69" height="12.77" fill="#6b2a08"/>
<rect x="152.55" y="234.98" width="12.77" height="12.77" fill="#cf5a06"/>
<rect x="165.01" y="234.98" width="12.77" height="12.77" fill="#fdab67"/>
<rect x="177.48" y="234.98" width="12.77" height="12.77" fill="#fee2cb"/>
<rect x="189.94" y="234.98" width="12.77" height="12.77" fill="#b3fbfb"/>
<rect x="202.41" y="234.98" width="25.23" height="12.77" fill="#6ff6f6"/>
<rect x="227.34" y="234.98" width="50.16" height="12.77" fill="#0cc5c6"/>
<rect x="277.2" y="234.98" width="12.76" height="12.77" fill="#b3fbfb"/>
<rect x="289.67" y="234.98" width="87.55" height="12.77" fill="#6ff6f6"/>
<rect x="376.92" y="234.98" width="12.77" height="12.77" fill="#fee2cb"/>
<rect x="389.39" y="234.98" width="37.69" height="12.77" fill="#fdab67"/>
<rect x="426.78" y="234.98" width="25.23" height="12.77" fill="#cf5a06"/>
<rect x="451.71" y="234.98" width="25.23" height="12.77" fill="#6b2a08"/>
<rect x="476.64" y="234.98" width="25.23" height="12.77" fill="#cf5a06"/>
<rect x="501.57" y="234.98" width="12.76" height="12.77" fill="#fdab67"/>
<rect x="514.03" y="234.98" width="12.77" height="12.77" fill="#b3fbfb"/>
<rect x="526.5" y="234.98" width="12.77" height="12.77" fill="#0cc5c6"/>
<rect x="538.97" y="234.98" width="62.62" height="12.77" fill="#0c6b6b"/>
<rect x="601.29" y="234.98" width="25.23" height="12.77" fill="#0cc5c6"/>
<rect x="626.22" y="234.98" width="12.77" height="12.77" fill="#fee2cb"/>
<rect x="638.69" y="234.98" width="87.55" height="12.77" fill="#6b2a08"/>
<rect x="725.94" y="234.98" width="12.76" height="12.77" fill="#cf5a06"/>
<rect x="738.4" y="234.98" width="12.77" height="12.77" fill="#fee2cb"/>
<rect x="750.87" y="234.98" width="12.77" height="12.77" fill="#6ff6f6"/>
<rect x="763.34" y="234.98" width="37.69" height="12.77" fill="#0cc5c6"/>
<rect x="800.73" y="234.98" width="12.77" height="12.77" fill="#6ff6f6"/>
<rect x="813.2" y="234.98" width="12.76" height="12.77" fill="#b3fbfb"/>
<rect x="825.66" y="234.98" width="12.77" height="12.77" fill="#fee2cb"/>
<rect x="838.12" y="234.98" width="25.23" height="12.77" fill="#fdab67"/>
<rect x="863.06" y="234.98" width="37.69" height="12.77" fill="#cf5a06"/>
<rect x="15.44" y="247.45" width="12.76" height="12.77" fill="#6b2a08"/>
<rect x="27.9" y="247.45" width="12.76" height="12.77" fill="#cf5a06"/>
<rect x="40.36" y="247.45" width="12.77" height="12.77" fill="#6b2a08"/>
<rect x="52.83" y="247.45" width="37.69" height="12.77" fill="#fdab67"/>
<rect x="90.22" y="247.45" width="37.7" height="12.77" fill="#cf5a06"/>
<rect x="127.62" y="247.45" width="50.16" height="12.77" fill="#fdab67"/>
<rect x="177.48" y="247.45" width="25.23" height="12.77" fill="#fee2cb"/>
<rect x="202.41" y="247.45" width="12.77" height="12.77" fill="#6ff6f6"/>
<rect x="214.88" y="247.45" width="62.63" height="12.77" fill="#0cc5c6"/>
<rect x="277.2" y="247.45" width="25.23" height="12.77" fill="#b3fbfb"/>
<rect x="302.13" y="247.45" width="37.7" height="12.77" fill="#6ff6f6"/>
<rect x="339.53" y="247.45" width="87.55" height="12.77" fill="#0cc5c6"/>
<rect x="426.78" y="247.45" width="12.76" height="12.77" fill="#6ff6f6"/>
<rect x="439.25" y="247.45" width="12.77" height="12.77" fill="#b3fbfb"/>
<rect x="451.71" y="247.45" width="37.69" height="12.77" fill="#fdab67"/>
<rect x="489.11" y="247.45" width="12.77" height="12.77" fill="#cf5a06"/>
<rect x="501.57" y="247.45" width="12.76" height="12.77" fill="#fdab67"/>
<rect x="514.03" y="247.45" width="12.77" height="12.77" fill="#fee2cb"/>
<rect x="526.5" y="247.45" width="12.77" height="12.77" fill="#6ff6f6"/>
<rect x="538.97" y="247.45" width="12.77" height="12.77" fill="#0cc5c6"/>
<rect x="551.43" y="247.45" width="75.09" height="12.77" fill="#0c6b6b"/>
<rect x="626.22" y="247.45" width="12.77" height="12.77" fill="#0cc5c6"/>
<rect x="638.69" y="247.45" width="12.76" height="12.77" fill="#fdab67"/>
<rect x="651.15" y="247.45" width="75.09" height="12.77" fill="#6b2a08"/>
<rect x="725.94" y="247.45" width="12.76" height="12.77" fill="#fee2cb"/>
<rect x="738.4" y="247.45" width="12.77" height="12.77" fill="#b3fbfb"/>
<rect x="750.87" y="247.45" width="62.63" height="12.77" fill="#0cc5c6"/>
<rect x="813.2" y="247.45" width="25.23" height="12.77" fill="#6ff6f6"/>
<rect x="838.12" y="247.45" width="25.23" height="12.77" fill="#fee2cb"/>
<rect x="863.06" y="247.45" width="37.69" height="12.77" fill="#6b2a08"/>
<rect x="15.44" y="259.92" width="12.76" height="12.77" fill="#cf5a06"/>
<rect x="27.9" y="259.92" width="25.23" height="12.77" fill="#6b2a08"/>
<rect x="52.83" y="259.92" width="37.69" height="12.77" fill="#cf5a06"/>
<rect x="90.22" y="259.92" width="12.77" height="12.77" fill="#fdab67"/>
<rect x="102.69" y="259.92" width="12.77" height="12.77" fill="#cf5a06"/>
<rect x="115.16" y="259.92" width="12.77" height="12.77" fill="#fdab67"/>
<rect x="127.62" y="259.92" width="37.69" height="12.77" fill="#fee2cb"/>
<rect x="165.01" y="259.92" width="37.7" height="12.77" fill="#fdab67"/>
<rect x="202.41" y="259.92" width="12.77" height="12.77" fill="#6ff6f6"/>
<rect x="214.88" y="259.92" width="37.7" height="12.77" fill="#b3fbfb"/>
<rect x="252.27" y="259.92" width="12.77" height="12.77" fill="#fee2cb"/>
<rect x="264.74" y="259.92" width="12.77" height="12.77" fill="#b3fbfb"/>
<rect x="277.2" y="259.92" width="12.76" height="12.77" fill="#fee2cb"/>
<rect x="289.67" y="259.92" width="12.76" height="12.77" fill="#fdab67"/>
<rect x="302.13" y="259.92" width="50.16" height="12.77" fill="#fee2cb"/>
<rect x="351.99" y="259.92" width="37.7" height="12.77" fill="#6ff6f6"/>
<rect x="389.39" y="259.92" width="62.62" height="12.77" fill="#0cc5c6"/>
<rect x="451.71" y="259.92" width="25.23" height="12.77" fill="#6ff6f6"/>
<rect x="476.64" y="259.92" width="12.76" height="12.77" fill="#fee2cb"/>
<rect x="489.11" y="259.92" width="12.77" height="12.77" fill="#fdab67"/>
<rect x="501.57" y="259.92" width="12.76" height="12.77" fill="#cf5a06"/>
<rect x="514.03" y="259.92" width="37.7" height="12.77" fill="#fdab67"/>
<rect x="551.43" y="259.92" width="12.76" height="12.77" fill="#b3fbfb"/>
<rect x="563.89" y="259.92" width="12.77" height="12.77" fill="#6ff6f6"/>
<rect x="576.36" y="259.92" width="12.77" height="12.77" fill="#0cc5c6"/>
<rect x="588.83" y="259.92" width="50.16" height="12.77" fill="#0c6b6b"/>
<rect x="638.69" y="259.92" width="12.76" height="12.77" fill="#b3fbfb"/>
<rect x="651.15" y="259.92" width="50.16" height="12.77" fill="#6b2a08"/>
<rect x="701.01" y="259.92" width="25.23" height="12.77" fill="#cf5a06"/>
<rect x="725.94" y="259.92" width="12.76" height="12.77" fill="#fdab67"/>
<rect x="738.4" y="259.92" width="12.77" height="12.77" fill="#fee2cb"/>
<rect x="750.87" y="259.92" width="12.77" height="12.77" fill="#6ff6f6"/>
<rect x="763.34" y="259.92" width="62.62" height="12.77" fill="#0cc5c6"/>
<rect x="825.66" y="259.92" width="37.7" height="12.77" fill="#6ff6f6"/>
<rect x="863.06" y="259.92" width="37.69" height="12.77" fill="#6b2a08"/>
<rect x="15.44" y="272.39" width="12.76" height="12.77" fill="#fdab67"/>
<rect x="27.9" y="272.39" width="50.16" height="12.77" fill="#cf5a06"/>
<rect x="77.76" y="272.39" width="25.23" height="12.77" fill="#fdab67"/>
<rect x="102.69" y="272.39" width="12.77" height="12.77" fill="#cf5a06"/>
<rect x="115.16" y="272.39" width="25.23" height="12.77" fill="#fdab67"/>
<rect x="140.09" y="272.39" width="12.76" height="12.77" fill="#fee2cb"/>
<rect x="152.55" y="272.39" width="25.23" height="12.77" fill="#fdab67"/>
<rect x="177.48" y="272.39" width="62.63" height="12.77" fill="#cf5a06"/>
<rect x="239.81" y="272.39" width="12.77" height="12.77" fill="#fee2cb"/>
<rect x="252.27" y="272.39" width="62.63" height="12.77" fill="#cf5a06"/>
<rect x="314.6" y="272.39" width="12.76" height="12.77" fill="#fdab67"/>
<rect x="327.06" y="272.39" width="37.7" height="12.77" fill="#cf5a06"/>
<rect x="364.46" y="272.39" width="25.23" height="12.77" fill="#fdab67"/>
<rect x="389.39" y="272.39" width="25.23" height="12.77" fill="#fee2cb"/>
<rect x="414.31" y="272.39" width="12.77" height="12.77" fill="#b3fbfb"/>
<rect x="426.78" y="272.39" width="62.62" height="12.77" fill="#6ff6f6"/>
<rect x="489.11" y="272.39" width="12.77" height="12.77" fill="#fee2cb"/>
<rect x="501.57" y="272.39" width="12.76" height="12.77" fill="#fdab67"/>
<rect x="514.03" y="272.39" width="25.23" height="12.77" fill="#cf5a06"/>
<rect x="538.97" y="272.39" width="12.77" height="12.77" fill="#6b2a08"/>
<rect x="551.43" y="272.39" width="25.23" height="12.77" fill="#cf5a06"/>
<rect x="576.36" y="272.39" width="12.77" height="12.77" fill="#fdab67"/>
<rect x="588.83" y="272.39" width="12.76" height="12.77" fill="#b3fbfb"/>
<rect x="601.29" y="272.39" width="12.77" height="12.77" fill="#6ff6f6"/>
<rect x="613.75" y="272.39" width="25.23" height="12.77" fill="#0cc5c6"/>
<rect x="638.69" y="272.39" width="12.76" height="12.77" fill="#fee2cb"/>
<rect x="651.15" y="272.39" width="12.77" height="12.77" fill="#6b2a08"/>
<rect x="663.62" y="272.39" width="25.23" height="12.77" fill="#cf5a06"/>
<rect x="688.55" y="272.39" width="12.76" height="12.77" fill="#fdab67"/>
<rect x="701.01" y="272.39" width="12.77" height="12.77" fill="#6ff6f6"/>
<rect x="713.48" y="272.39" width="50.16" height="12.77" fill="#fdab67"/>
<rect x="763.34" y="272.39" width="12.77" height="12.77" fill="#b3fbfb"/>
<rect x="775.8" y="272.39" width="12.76" height="12.77" fill="#6ff6f6"/>
<rect x="788.26" y="272.39" width="12.77" height="12.77" fill="#0cc5c6"/>
<rect x="800.73" y="272.39" width="62.63" height="12.77" fill="#6ff6f6"/>
<rect x="863.06" y="272.39" width="12.76" height="12.77" fill="#cf5a06"/>
<rect x="875.52" y="272.39" width="25.23" height="12.77" fill="#6b2a08"/>
<rect x="15.44" y="284.86" width="12.76" height="12.77" fill="#b3fbfb"/>
<rect x="27.9" y="284.86" width="37.7" height="12.77" fill="#fee2cb"/>
<rect x="65.3" y="284.86" width="12.76" height="12.77" fill="#fdab67"/>
<rect x="77.76" y="284.86" width="25.23" height="12.77" fill="#fee2cb"/>
<rect x="102.69" y="284.86" width="37.7" height="12.77" fill="#fdab67"/>
<rect x="140.09" y="284.86" width="62.62" height="12.77" fill="#cf5a06"/>
<rect x="202.41" y="284.86" width="25.23" height="12.77" fill="#6b2a08"/>
<rect x="227.34" y="284.86" width="12.77" height="12.77" fill="#cf5a06"/>
<rect x="239.81" y="284.86" width="12.77" height="12.77" fill="#fdab67"/>
<rect x="252.27" y="284.86" width="25.23" height="12.77" fill="#cf5a06"/>
<rect x="277.2" y="284.86" width="25.23" height="12.77" fill="#6b2a08"/>
<rect x="302.13" y="284.86" width="100.02" height="12.77" fill="#cf5a06"/>
<rect x="401.85" y="284.86" width="37.69" height="12.77" fill="#fdab67"/>
<rect x="439.25" y="284.86" width="25.23" height="12.77" fill="#fee2cb"/>
<rect x="464.18" y="284.86" width="12.77" height="12.77" fill="#b3fbfb"/>
<rect x="476.64" y="284.86" width="12.76" height="12.77" fill="#6ff6f6"/>
<rect x="489.11" y="284.86" width="12.77" height="12.77" fill="#fee2cb"/>
<rect x="501.57" y="284.86" width="25.23" height="12.77" fill="#fdab67"/>
<rect x="526.5" y="284.86" width="12.77" height="12.77" fill="#cf5a06"/>
<rect x="538.97" y="284.86" width="12.77" height="12.77" fill="#6b2a08"/>
<rect x="551.43" y="284.86" width="12.76" height="12.77" fill="#cf5a06"/>
<rect x="563.89" y="284.86" width="12.77" height="12.77" fill="#6b2a08"/>
<rect x="576.36" y="284.86" width="37.69" height="12.77" fill="#cf5a06"/>
<rect x="613.75" y="284.86" width="25.23" height="12.77" fill="#fdab67"/>
<rect x="638.69" y="284.86" width="25.23" height="12.77" fill="#6b2a08"/>
<rect x="663.62" y="284.86" width="12.77" height="12.77" fill="#cf5a06"/>
<rect x="676.08" y="284.86" width="12.77" height="12.77" fill="#fee2cb"/>
<rect x="688.55" y="284.86" width="25.23" height="12.77" fill="#6ff6f6"/>
<rect x="713.48" y="284.86" width="12.77" height="12.77" fill="#fee2cb"/>
<rect x="725.94" y="284.86" width="12.76" height="12.77" fill="#fdab67"/>
<rect x="738.4" y="284.86" width="25.23" height="12.77" fill="#cf5a06"/>
<rect x="763.34" y="284.86" width="25.23" height="12.77" fill="#fdab67"/>
<rect x="788.26" y="284.86" width="12.77" height="12.77" fill="#b3fbfb"/>
<rect x="800.73" y="284.86" width="25.23" height="12.77" fill="#fee2cb"/>
<rect x="825.66" y="284.86" width="75.09" height="12.77" fill="#fdab67"/>
<rect x="15.44" y="297.33" width="12.76" height="12.77" fill="#fee2cb"/>
<rect x="27.9" y="297.33" width="37.7" height="12.77" fill="#b3fbfb"/>
<rect x="65.3" y="297.33" width="12.76" height="12.77" fill="#fee2cb"/>
<rect x="77.76" y="297.33" width="12.77" height="12.77" fill="#fdab67"/>
<rect x="90.22" y="297.33" width="12.77" height="12.77" fill="#fee2cb"/>
<rect x="102.69" y="297.33" width="37.7" height="12.77" fill="#fdab67"/>
<rect x="140.09" y="297.33" width="62.62" height="12.77" fill="#cf5a06"/>
<rect x="202.41" y="297.33" width="25.23" height="12.77" fill="#6b2a08"/>
<rect x="227.34" y="297.33" width="62.63" height="12.77" fill="#cf5a06"/>
<rect x="289.67" y="297.33" width="12.76" height="12.77" fill="#6b2a08"/>
<rect x="302.13" y="297.33" width="25.23" height="12.77" fill="#cf5a06"/>
<rect x="327.06" y="297.33" width="12.77" height="12.77" fill="#fdab67"/>
<rect x="339.53" y="297.33" width="62.62" height="12.77" fill="#cf5a06"/>
<rect x="401.85" y="297.33" width="75.09" height="12.77" fill="#fdab67"/>
<rect x="476.64" y="297.33" width="50.16" height="12.77" fill="#fee2cb"/>
<rect x="526.5" y="297.33" width="37.69" height="12.77" fill="#fdab67"/>
<rect x="563.89" y="297.33" width="75.09" height="12.77" fill="#cf5a06"/>
<rect x="638.69" y="297.33" width="25.23" height="12.77" fill="#6b2a08"/>
<rect x="663.62" y="297.33" width="25.23" height="12.77" fill="#cf5a06"/>
<rect x="688.55" y="297.33" width="37.69" height="12.77" fill="#fdab67"/>
<rect x="725.94" y="297.33" width="62.62" height="12.77" fill="#cf5a06"/>
<rect x="788.26" y="297.33" width="37.69" height="12.77" fill="#fdab67"/>
<rect x="825.66" y="297.33" width="50.16" height="12.77" fill="#cf5a06"/>
<rect x="875.52" y="297.33" width="12.77" height="12.77" fill="#fdab67"/>
<rect x="887.99" y="297.33" width="12.77" height="12.77" fill="#fee2cb"/>
<rect x="15.44" y="309.8" width="50.16" height="12.77" fill="#fee2cb"/>
<rect x="65.3" y="309.8" width="112.48" height="12.77" fill="#fdab67"/>
<rect x="177.48" y="309.8" width="87.56" height="12.77" fill="#cf5a06"/>
<rect x="264.74" y="309.8" width="25.23" height="12.77" fill="#fdab67"/>
<rect x="289.67" y="309.8" width="12.76" height="12.77" fill="#cf5a06"/>
<rect x="302.13" y="309.8" width="62.63" height="12.77" fill="#fdab67"/>
<rect x="364.46" y="309.8" width="12.76" height="12.77" fill="#cf5a06"/>
<rect x="376.92" y="309.8" width="100.02" height="12.77" fill="#fdab67"/>
<rect x="476.64" y="309.8" width="12.76" height="12.77" fill="#fee2cb"/>
<rect x="489.11" y="309.8" width="12.77" height="12.77" fill="#fdab67"/>
<rect x="501.57" y="309.8" width="25.23" height="12.77" fill="#fee2cb"/>
<rect x="526.5" y="309.8" width="25.23" height="12.77" fill="#b3fbfb"/>
<rect x="551.43" y="309.8" width="25.23" height="12.77" fill="#fee2cb"/>
<rect x="576.36" y="309.8" width="37.69" height="12.77" fill="#fdab67"/>
<rect x="613.75" y="309.8" width="25.23" height="12.77" fill="#cf5a06"/>
<rect x="638.69" y="309.8" width="87.55" height="12.77" fill="#6b2a08"/>
<rect x="725.94" y="309.8" width="162.34" height="12.77" fill="#cf5a06"/>
<rect x="887.99" y="309.8" width="12.77" height="12.77" fill="#fdab67"/>
<rect x="15.44" y="322.27" width="12.76" height="12.77" fill="#fee2cb"/>
<rect x="27.9" y="322.27" width="37.7" height="12.77" fill="#b3fbfb"/>
<rect x="65.3" y="322.27" width="50.16" height="12.77" fill="#fee2cb"/>
<rect x="115.16" y="322.27" width="37.69" height="12.77" fill="#fdab67"/>
<rect x="152.55" y="322.27" width="25.23" height="12.77" fill="#fee2cb"/>
<rect x="177.48" y="322.27" width="12.77" height="12.77" fill="#fdab67"/>
<rect x="189.94" y="322.27" width="12.77" height="12.77" fill="#fee2cb"/>
<rect x="202.41" y="322.27" width="75.09" height="12.77" fill="#fdab67"/>
<rect x="277.2" y="322.27" width="25.23" height="12.77" fill="#fee2cb"/>
<rect x="302.13" y="322.27" width="12.77" height="12.77" fill="#fdab67"/>
<rect x="314.6" y="322.27" width="12.76" height="12.77" fill="#fee2cb"/>
<rect x="327.06" y="322.27" width="37.7" height="12.77" fill="#b3fbfb"/>
<rect x="364.46" y="322.27" width="12.76" height="12.77" fill="#fee2cb"/>
<rect x="376.92" y="322.27" width="75.09" height="12.77" fill="#fdab67"/>
<rect x="451.71" y="322.27" width="75.09" height="12.77" fill="#fee2cb"/>
<rect x="526.5" y="322.27" width="12.77" height="12.77" fill="#b3fbfb"/>
<rect x="538.97" y="322.27" width="12.77" height="12.77" fill="#fee2cb"/>
<rect x="551.43" y="322.27" width="50.16" height="12.77" fill="#b3fbfb"/>
<rect x="601.29" y="322.27" width="37.7" height="12.77" fill="#fee2cb"/>
<rect x="638.69" y="322.27" width="12.76" height="12.77" fill="#fdab67"/>
<rect x="651.15" y="322.27" width="25.23" height="12.77" fill="#cf5a06"/>
<rect x="676.08" y="322.27" width="25.23" height="12.77" fill="#6b2a08"/>
<rect x="701.01" y="322.27" width="75.09" height="12.77" fill="#cf5a06"/>
<rect x="775.8" y="322.27" width="124.95" height="12.77" fill="#fdab67"/>
<rect x="15.44" y="334.74" width="25.23" height="12.77" fill="#b3fbfb"/>
<rect x="40.36" y="334.74" width="75.09" height="12.77" fill="#6ff6f6"/>
<rect x="115.16" y="334.74" width="37.69" height="12.77" fill="#b3fbfb"/>
<rect x="152.55" y="334.74" width="75.09" height="12.77" fill="#fee2cb"/>
<rect x="227.34" y="334.74" width="62.63" height="12.77" fill="#b3fbfb"/>
<rect x="289.67" y="334.74" width="12.76" height="12.77" fill="#fee2cb"/>
<rect x="302.13" y="334.74" width="50.16" height="12.77" fill="#b3fbfb"/>
<rect x="351.99" y="334.74" width="12.77" height="12.77" fill="#6ff6f6"/>
<rect x="364.46" y="334.74" width="50.16" height="12.77" fill="#fee2cb"/>
<rect x="414.31" y="334.74" width="12.77" height="12.77" fill="#fdab67"/>
<rect x="426.78" y="334.74" width="50.16" height="12.77" fill="#fee2cb"/>
<rect x="476.64" y="334.74" width="87.55" height="12.77" fill="#b3fbfb"/>
<rect x="563.89" y="334.74" width="12.77" height="12.77" fill="#6ff6f6"/>
<rect x="576.36" y="334.74" width="50.16" height="12.77" fill="#b3fbfb"/>
<rect x="626.22" y="334.74" width="12.77" height="12.77" fill="#6ff6f6"/>
<rect x="638.69" y="334.74" width="12.76" height="12.77" fill="#b3fbfb"/>
<rect x="651.15" y="334.74" width="12.77" height="12.77" fill="#fee2cb"/>
<rect x="663.62" y="334.74" width="25.23" height="12.77" fill="#cf5a06"/>
<rect x="688.55" y="334.74" width="37.69" height="12.77" fill="#fdab67"/>
<rect x="725.94" y="334.74" width="25.23" height="12.77" fill="#fee2cb"/>
<rect x="750.87" y="334.74" width="25.23" height="12.77" fill="#b3fbfb"/>
<rect x="775.8" y="334.74" width="75.09" height="12.77" fill="#fee2cb"/>
<rect x="850.59" y="334.74" width="12.77" height="12.77" fill="#b3fbfb"/>
<rect x="863.06" y="334.74" width="37.69" height="12.77" fill="#6ff6f6"/>
<rect x="15.44" y="347.21" width="50.16" height="12.77" fill="#6ff6f6"/>
<rect x="65.3" y="347.21" width="12.76" height="12.77" fill="#0cc5c6"/>
<rect x="77.76" y="347.21" width="25.23" height="12.77" fill="#6ff6f6"/>
<rect x="102.69" y="347.21" width="12.77" height="12.77" fill="#0cc5c6"/>
<rect x="115.16" y="347.21" width="12.77" height="12.77" fill="#6ff6f6"/>
<rect x="127.62" y="347.21" width="25.23" height="12.77" fill="#0cc5c6"/>
<rect x="152.55" y="347.21" width="100.02" height="12.77" fill="#6ff6f6"/>
<rect x="252.27" y="347.21" width="50.16" height="12.77" fill="#b3fbfb"/>
<rect x="302.13" y="347.21" width="62.63" height="12.77" fill="#6ff6f6"/>
<rect x="364.46" y="347.21" width="62.62" height="12.77" fill="#b3fbfb"/>
<rect x="426.78" y="347.21" width="75.09" height="12.77" fill="#6ff6f6"/>
<rect x="501.57" y="347.21" width="75.09" height="12.77" fill="#b3fbfb"/>
<rect x="576.36" y="347.21" width="62.63" height="12.77" fill="#fee2cb"/>
<rect x="638.69" y="347.21" width="12.76" height="12.77" fill="#b3fbfb"/>
<rect x="651.15" y="347.21" width="12.77" height="12.77" fill="#6ff6f6"/>
<rect x="663.62" y="347.21" width="12.77" height="12.77" fill="#fdab67"/>
<rect x="676.08" y="347.21" width="12.77" height="12.77" fill="#b3fbfb"/>
<rect x="688.55" y="347.21" width="37.69" height="12.77" fill="#6ff6f6"/>
<rect x="725.94" y="347.21" width="62.62" height="12.77" fill="#0cc5c6"/>
<rect x="788.26" y="347.21" width="62.63" height="12.77" fill="#6ff6f6"/>
<rect x="850.59" y="347.21" width="50.16" height="12.77" fill="#0cc5c6"/>
</g>
<path d="M-87.04,120.26 -74.58,121.5 -64.61,117.76 -47.15,117.01 -44.66,126.49 -34.69,129.48 -22.22,132.73 -9.76,130.98 7.69,132.23 12.68,140.21 16.42,150.18 20.16,157.67 25.15,171.38 35.12,180.11 38.86,182.61 55.06,180.61 52.57,190.09 45.09,200.06 32.63,213.78 26.39,222.51 25.15,234.98 28.89,247.45 15.17,259.92 16.42,269.9 9.44,274.88 7.69,282.37 -2.28,292.34 -9.76,294.84 -22.22,296.83 -26.46,294.84 -29.7,284.86 -34.69,277.38 -37.18,264.91 -42.17,252.44 -38.43,239.97 -40.92,225 -48.4,212.53 -48.4,200.06 -54.63,198.82 -60.87,194.33 -69.59,195.08 -82.06,197.57 -90.78,198.82 -99.51,192.58 -105.74,186.35 -113.22,178.87 -115.22,173.38 -112.72,162.65 -114.47,157.67 -108.23,145.2 -100.76,138.96 -96.27,131.48 -89.54,125.24 -87.04,120.26M810.47,120.26 822.94,121.5 832.91,117.76 850.36,117.01 852.86,126.49 862.83,129.48 875.29,132.73 887.76,130.98 905.21,132.23 910.2,140.21 913.94,150.18 917.68,157.67 922.66,171.38 932.63,180.11 936.37,182.61 952.58,180.61 950.09,190.09 942.61,200.06 930.14,213.78 923.91,222.51 922.66,234.98 926.4,247.45 912.69,259.92 913.94,269.9 906.96,274.88 905.21,282.37 895.24,292.34 887.76,294.84 875.29,296.83 871.06,294.84 867.81,284.86 862.83,277.38 860.33,264.91 855.35,252.44 859.09,239.97 856.6,225 849.12,212.53 849.12,200.06 842.88,198.82 836.65,194.33 827.92,195.08 815.46,197.57 806.73,198.82 798.01,192.58 791.77,186.35 784.3,178.87 782.3,173.38 784.79,162.65 783.05,157.67 789.28,145.2 796.76,138.96 801.25,131.48 807.98,125.24 810.47,120.26M837.9,60.4 839.14,63.39 842.88,65.39 846.62,64.64 851.61,62.4 852.86,62.89 854.1,65.39 856.6,69.63 857.84,71.87 861.58,71.62 866.57,69.13 867.07,66.14 870.31,62.89 872.3,60.4M-45.91,66.14 -51.64,67.88 -51.64,71.62 -50.15,75.36 -54.63,76.61 -60.87,79.11 -63.36,82.1 -67.85,83.1 -68.35,85.34 -72.08,86.59 -75.82,86.09 -76.32,88.58 -83.8,89.08 -82.81,90.83 -77.07,92.82 -75.08,95.32 -75.33,99.06 -76.57,101.8 -82.06,101.55 -92.03,101.05 -95.02,102.8 -94.02,107.79 -95.77,113.52 -94.02,117.76 -87.79,118.26 -85.8,120.26 -83.3,118.51 -77.07,118.26 -73.33,114.52 -72.08,111.53 -70.09,107.79 -64.11,105.29 -63.36,102.05 -59.62,101.8 -53.39,100.8 -50.15,99.31 -46.41,101.55 -44.16,104.54 -40.92,106.79 -36.68,108.53 -32.94,110.28 -32.2,114.52 -32.94,115.27 -29.7,113.02 -29.7,109.03 -25.96,109.78 -27.21,108.28 -32.2,105.54 -34.19,105.54 -37.68,102.3 -41.17,99.56 -41.42,97.06 -37.93,96.06 -37.93,98.06 -34.69,99.06 -29.7,102.8 -24.72,105.29 -23.47,109.03 -20.98,112.28 -18.98,114.52 -17.98,118.26 -15.99,119.01 -14.74,116.52 -12.25,115.27 -14.74,112.28 -15.49,109.28 -12.25,109.53 -7.26,108.28 -5.52,109.28 -6.77,111.53 -4.77,114.02 -4.02,117.76 -1.53,118.51 3.95,119.51 7.69,120.01 12.68,119.51 17.67,118.26 17.67,122.75 16.42,127.74 13.93,131.98 8.94,132.48M851.61,66.14 845.87,67.88 845.87,71.62 847.37,75.36 842.88,76.61 836.65,79.11 834.16,82.1 829.67,83.1 829.17,85.34 825.43,86.59 821.69,86.09 821.19,88.58 813.71,89.08 814.71,90.83 820.45,92.82 822.44,95.32 822.19,99.06 820.94,101.8 815.46,101.55 805.49,101.05 802.49,102.8 803.49,107.79 801.75,113.52 803.49,117.76 809.72,118.26 811.72,120.26 814.21,118.51 820.45,118.26 824.18,114.52 825.43,111.53 827.43,107.79 833.41,105.29 834.16,102.05 837.9,101.8 844.13,100.8 847.37,99.31 851.11,101.55 853.35,104.54 856.6,106.79 860.83,108.53 864.57,110.28 865.32,114.52 864.57,115.27 867.81,113.02 867.81,109.03 871.55,109.78 870.31,108.28 865.32,105.54 863.33,105.54 859.84,102.3 856.35,99.56 856.1,97.06 859.59,96.06 859.59,98.06 862.83,99.06 867.81,102.8 872.8,105.29 874.05,109.03 876.54,112.28 878.53,114.52 879.53,118.26 881.53,119.01 882.77,116.52 885.27,115.27 882.77,112.28 882.02,109.28 885.27,109.53 890.25,108.28 892,109.28 890.75,111.53 892.74,114.02 893.49,117.76 895.99,118.51 901.47,119.51 905.21,120.01 910.2,119.51 915.18,118.26 915.18,122.75 913.94,127.74 911.44,131.98 906.46,132.48M-45.91,66.14 -45.91,69.13 -47.15,72.87 -47.15,75.36 -44.66,75.36 -42.17,74.62 -37.18,75.36 -30.95,74.12 -25.96,73.62 -23.47,74.37 -19.73,72.87 -19.73,67.88 -15.99,66.14 -12.25,67.38 -11.5,64.64 -13.5,62.4 -7.26,61.65 -2.28,61.15 2.71,60.4M851.61,66.14 851.61,69.13 850.36,72.87 850.36,75.36 852.86,75.36 855.35,74.62 860.33,75.36 866.57,74.12 871.55,73.62 874.05,74.37 877.79,72.87 877.79,67.88 881.53,66.14 885.27,67.38 886.01,64.64 884.02,62.4 890.25,61.65 895.24,61.15 900.22,60.4M-2.28,106.54 0.22,107.29 6.45,107.29 11.43,105.29 15.17,105.29 18.91,107.04 23.9,107.79 31.38,106.54 31.38,103.55 25.15,100.3 21.41,97.81 23.9,95.32 25.15,92.82 21.41,92.82 15.17,94.82 18.91,97.06 16.42,97.81 11.43,99.06 8.94,96.56 11.43,95.32 6.45,93.82 3.95,95.32 1.96,97.31 -0.53,100.3 -2.28,102.8 -2.28,106.54M895.24,106.54 897.73,107.29 903.96,107.29 908.95,105.29 912.69,105.29 916.43,107.04 921.42,107.79 928.89,106.54 928.89,103.55 922.66,100.3 918.92,97.81 921.42,95.32 922.66,92.82 918.92,92.82 912.69,94.82 916.43,97.06 913.94,97.81 908.95,99.06 906.46,96.56 908.95,95.32 903.96,93.82 901.47,95.32 899.48,97.31 896.98,100.3 895.24,102.8 895.24,106.54M50.08,94.07 55.06,92.82 60.05,93.57 60.05,97.06 55.81,97.81 53.32,99.56 56.31,102.3 59.3,104.05 58.8,106.54 61.3,108.53 60.05,111.53 62.04,117.01 57.56,118.51 52.57,116.76 50.08,114.02 51.07,109.53 48.83,105.79 46.09,102.8 46.34,99.06 45.09,96.56 50.08,94.07M8.94,135.22 11.43,138.96 13.43,140.71 15.17,136.47 15.17,140.21 20.16,146.44 25.15,156.42 30.13,163.9 34.37,172.63 35.87,178.37 40.1,178.12 48.83,175.12 58.06,169.64 65.53,166.4 72.02,162.65 74.51,158.91 77,153.93 73.76,150.93 69.52,148.94 68.28,144.7 65.04,145.94 62.54,149.69 56.81,149.69 56.31,145.94 54.56,147.69 52.57,143.45 49.58,140.21 47.58,135.22 51.32,134.72 54.56,137.71 58.8,141.46 64.29,143.7 68.78,142.7 70.77,146.44 81.24,147.19 93.71,146.69 96.2,150.18 98.69,151.93 102.43,153.93 99.94,155.92 103.68,158.16 108.67,157.17 109.41,162.65 111.16,170.14 114.15,177.62 118.14,186.35 121.13,189.84 122.88,187.59 125.62,184.35 127.36,180.11 128.11,172.63 132.35,168.89 138.58,162.65 143.57,158.91 144.81,156.42 149.8,155.67 153.54,153.93 156.03,153.43 157.78,157.67 163.01,163.9 163.51,170.14 167.25,168.89 170.99,168.14 172.24,175.12 173.49,181.36 172.99,188.84 177.97,193.83 180.47,202.56 185.95,206.55 187.7,206.3 185.95,200.06 182.71,194.58 178.47,191.34 177.23,186.35 175.23,182.61 177.23,176.37 179.72,178.37 184.21,180.61 189.19,183.85 189.69,188.34 193.93,183.85 199.66,181.36 200.41,176.37 199.16,171.38 194.68,166.89 191.69,162.65 193.93,158.91 197.17,156.42 201.41,156.42 202.9,159.66 204.65,156.42 210.88,154.67 214.62,153.18 219.61,151.18 223.85,148.19 226.59,143.95 230.83,139.46 232.07,135.22 229.58,132.73 231.57,130.23 227.84,125.24 225.09,122.75 228.33,119.76 233.32,117.76 229.58,116.27 224.59,117.01 222.1,114.77 222.1,112.28 225.84,110.78 230.33,108.28 232.07,109.03 230.08,112.77 234.57,111.03 237.81,110.28 240.05,114.02 242.79,116.02 243.29,120.26 242.79,124 246.28,123.25 249.53,122.25 250.77,117.76 248.28,114.02 245.79,111.03 251.27,106.54 253.76,104.54 259.5,103.3 265.73,99.06 271.96,92.82 277.7,85.34 278.2,79.11 280.19,77.36 275.7,74.87 269.47,75.36 264.98,73.37 270.72,69.13 278.2,64.14 283.18,62.15 290.66,61.9 299.39,61.4 306.87,62.89 314.35,61.65 318.09,66.64 315.59,72.87 318.09,82.85 322.57,79.6 326.81,75.36 331.8,72.87 334.29,66.14 335.04,61.65 341.77,60.4M252.52,126.49 252.77,131.98 256.51,128.24 258.25,125.24 263.24,123.5 266.23,126.49 269.47,123.5 274.46,122.75 278.94,121.5 279.44,115.27 281.94,111.53 280.19,106.79 276.95,109.03 276.2,114.02 273.21,117.01 269.47,117.01 266.98,120.26 261.99,121.5 257,122.75 254.01,124.75 252.52,126.49M276.95,106.54 279.94,104.05 285.18,105.29 290.66,102.05 287.67,100.3 281.94,96.56 281.19,99.06 280.19,102.3 277.7,104.05 276.95,106.54M281.94,95.32 285.68,94.07 284.43,87.83 288.17,87.34 284.43,81.6 285.18,77.86 283.68,74.62 281.94,76.61 281.44,82.85 281.94,90.33 281.94,95.32M257.75,126.49 262.74,124.5 263.24,125.99 259.5,127.74 257.75,126.49M229.58,147.19 232.07,147.69 230.83,151.43 229.08,155.17 227.59,152.68 228.33,148.94 229.58,147.19M198.92,161.91 203.4,160.16 204.65,161.41 201.41,164.4 198.92,161.91M127.36,185.6 130.35,188.84 131.85,192.58 129.86,194.58 127.36,195.08 126.62,190.09 127.36,185.6M228.33,163.9 232.57,163.9 232.07,168.89 230.83,172.63 232.07,175.12 237.06,177.62 235.81,178.37 233.32,175.62 229.58,175.62 227.84,173.13 227.09,169.64 228.33,163.9M232.07,192.58 235.81,190.59 237.06,188.84 240.8,185.6 243.29,190.09 242.54,194.33 240.8,195.57 237.06,194.58 235.81,191.34 232.07,192.58M237.81,178.87 240.8,179.61 240.05,182.61 238.31,183.1 237.81,178.87M232.07,180.61 234.57,181.36 235.07,185.1 233.32,186.35 232.07,183.85 232.07,180.61M220.36,188.84 225.84,183.85 225.34,182.11M199.66,206.3 202.16,205.8 205.9,203.31 209.64,201.81 214.62,197.57 219.11,192.58 221.35,194.58 224.59,197.07 222.1,199.32 221.6,205.05 224.1,207.55 220.85,210.04 220.85,213.78 218.36,217.52 217.11,220.02 213.38,220.02 210.88,218.27 206.39,218.27 202.65,217.27 202.16,213.28 199.66,209.29 199.66,206.3M165.51,196.07 170.99,197.07 177.23,202.56 182.21,205.8 186.45,210.04 188.44,215.03 192.18,217.52 191.69,224.51 188.44,224.51 182.96,220.02 178.47,213.78 174.23,205.8 169.75,201.31 165.51,196.07M190.19,227 194.68,225 198.92,227 204.15,226 208.89,227.5 213.38,229.24 212.88,231.49 204.65,230.74 197.17,229.49 193.43,228.5 190.19,227M226.59,208.04 229.08,206.8 235.81,207.8 239.55,206.05 238.31,208.79 229.58,209.04 227.59,212.53 231.57,212.28 235.31,212.53 232.07,215.03 233.32,218.77 234.57,222.51 232.07,222.01 230.33,217.52 229.08,216.77 228.08,223.76 225.84,223.76 225.84,218.77 224.1,217.02 226.59,208.04M254.51,212.04 258.25,211.04 261.99,212.04 264.48,218.27 269.47,213.78 274.46,215.03 279.44,216.52 288.17,219.52 291.91,223.76 296.4,225.75 295.15,228.75 299.39,232.49 303.13,236.23 296.89,235.48 291.91,229.99 286.92,229.24 283.18,232.98 279.44,232.74 274.46,229.99 271.96,230.99 273.96,227.5 271.96,223.76 265.73,221.26 260.74,220.02 259,220.02 257,217.02 260.74,215.78 257,215.03 254.51,212.04M215.87,230.74 219.61,230.99 224.59,231.49M226.59,231.24 234.57,230.99M235.81,235.73 239.55,232.98 244.54,230.99 240.8,234.23 235.81,235.73M245.79,205.55 247.03,208.79 248.28,212.04 246.53,208.04 245.79,205.55M242.05,218.02 245.04,218.52M247.03,217.52 254.01,218.27M299.39,223.76 305.62,222.51 307.37,220.51 305.62,225 299.39,225 299.39,223.76M304.37,217.02 307.61,219.52M313.85,224.01 316.34,226.5M319.33,228.25 321.83,229.74M323.32,229.24 325.81,230.74M326.81,233.48 328.81,234.73M330.05,235.73 331.8,236.73M336.78,260.42 344.26,265.66M343.27,247.45 345.51,251.19M370.44,253.69 373.18,254.93M210.88,264.91 212.13,274.88 214.62,284.86 216.37,292.34 214.62,295.58 222.1,297.33 227.09,294.84 235.81,294.84 242.05,290.6 249.53,289.1 255.76,288.6 261.99,291.84 265.73,296.83 266.98,294.84 270.72,292.34 271.46,298.58 274.46,299.08 276.95,303.56 281.94,305.56 288.17,304.81 292.66,307.31 296.89,304.31 301.88,303.07 303.87,297.33 305.62,292.34 309.36,287.35 310.61,279.87 309.36,273.64 304.37,268.65 300.63,264.91 298.14,259.92 292.66,257.43 290.66,251.19 289.41,246.95 286.17,245.7 283.68,236.98 281.19,241.22 280.69,247.45 278.69,253.69 274.46,253.69 270.72,249.94 265.73,247.45 266.98,242.46 268.97,240.47 264.48,239.97 258.25,238.22 254.51,240.72 251.52,243.71 250.77,247.45 247.03,247.45 244.54,244.96 239.55,248.7 235.81,253.19 232.57,254.93 230.83,258.67 224.59,259.92 218.36,261.67 213.38,264.16 210.88,264.91M288.67,311.55 293.15,312.54 297.64,312.04 297.39,315.29 295.65,317.78 291.91,318.53 289.91,315.54 288.67,311.55M358.47,295.83 362.96,299.82 365.45,302.32 369.19,304.56 372.93,304.06 369.94,307.8 368.7,310.55 364.96,313.79 363.71,312.79 364.71,309.8 361.22,308.05 363.46,304.81 362.96,301.57 359.22,297.33 358.47,295.83M358.47,311.05 362.21,312.79 361.71,314.79 358.72,319.03 354.98,320.52 353.74,324.27 350.5,326.26 346.76,326.01 343.02,324.76 345.51,321.77 349.25,319.28 354.24,316.04 356.73,312.29 358.47,311.05M50.83,239.97 53.32,248.7 51.32,252.44 48.83,261.17 45.59,271.89 40.85,273.64 37.61,272.39 35.87,266.16 38.61,259.92 37.61,253.69 40.1,249.94 45.09,247.45 48.83,243.71 50.83,239.97M416.56,60.4 421.55,63.89 431.52,63.64 434.01,67.88 424.04,71.62 415.32,73.62 426.54,70.38 432.77,66.64 441.49,64.14 443.99,61.65 447.73,62.15 451.47,60.4M440.25,66.64 445.23,65.39 445.73,67.13 441.49,68.38 440.25,66.64M456.45,60.4 461.44,59.65 468.92,60.4 476.4,61.15 483.88,64.14 488.86,67.88 493.85,71.62 500.08,74.12 501.33,77.86 506.31,81.6 511.3,86.59 515.04,89.58 516.29,95.32 515.54,102.8 515.54,109.53 518.78,115.27 521.27,118.26 524.76,123.75 530,125.24 533.24,128.74 536.73,135.22 539.97,140.21 544.96,146.44 551.19,152.68 552.44,151.93 548.7,146.44 544.96,140.21 539.47,131.48 543.71,132.73 548.7,140.21 553.68,145.2 558.67,151.43 562.41,157.67 563.66,161.41 571.14,165.15 578.61,168.39 586.09,170.63 591.08,169.64 596.07,173.63 602.3,176.87 607.29,177.62 611.02,181.36 611.77,185.1 616.76,188.34 619.75,189.59 624.74,191.83 626.48,188.09 630.97,190.09 632.71,192.58 632.22,200.06 628.98,206.3 625.98,209.29 623.99,215.53 625.98,218.27 622.99,222.51 627.23,228.75 630.97,235.73 635.21,244.46 643.43,251.19 649.67,255.68 650.42,264.91 649.42,274.88 647.17,284.86 646.68,293.59 643.43,302.32 642.19,309.8 641.44,314.79 639.7,322.27 637.2,329.75 638.45,337.23 642.19,342.22 648.42,344.72 653.41,347.21 660.89,347.71 662.88,346.46 654.65,342.22 653.41,337.23 657.15,331 661.63,327.26 657.65,323.52 663.38,317.28 663.38,312.29 670.11,308.55 670.86,306.81 682.08,304.81 684.07,300.57 679.58,294.84 688.31,296.83 692.05,294.34 698.28,287.35 704.02,279.87 704.52,273.64 710.75,269.9 718.23,267.4 723.21,264.91 726.95,256.18 728.2,247.45 729.45,242.46 733.19,237.47 738.17,231.24 738.17,225 733.19,221.76 725.71,217.02 715.73,216.28 705.76,211.79 700.78,208.79 698.28,200.06 693.3,196.32 683.32,195.08 675.85,189.34 670.86,183.6 664.63,184.6 655.9,183.1 647.17,183.1 645.93,180.11 643.43,182.11 637.2,183.85 633.46,188.84 627.23,186.35 622.24,187.59 617.26,183.85 617.26,177.62 617.76,172.63 612.27,170.39 606.04,170.63 604.29,166.4 607.29,160.16 608.53,156.42 601.05,157.17 599.31,161.41 596.07,163.65 589.83,164.65 586.09,161.41 582.35,155.17 582.35,147.69 583.6,141.46 589.09,136.47 597.31,136.47 602.3,137.22 603.55,134.47 611.02,134.47 616.01,135.22 619.25,140.21 621.5,145.2 623.99,147.19 625.73,143.95 623.99,137.71 622.24,132.73 627.23,127.74 632.22,124.5 636.7,122 635.96,117.76 637.2,114.02 640.94,110.28 645.93,107.79 650.91,106.04 649.17,102.8 655.9,99.31 660.89,99.06 664.63,96.56 660.89,101.55 668.37,98.56 674.6,95.32 672.11,92.82 664.63,92.07 663.38,89.08 658.39,87.83 652.16,90.83 655.9,87.34 663.38,84.84 675.85,84.59 683.32,81.6 686.32,79.11 685.82,76.11 680.83,72.87 674.6,70.38 670.86,65.39 664.63,60.4M630.97,60.4 633.46,65.39 629.72,69.13 627.23,73.62 628.48,80.35 624.74,82.35 620.25,78.11 620.25,72.37 613.52,71.62 606.04,69.13 594.82,67.88 593.57,63.64 589.33,60.4M663.38,60.4 660.89,63.64 654.65,64.14 650.91,60.4M677.59,91.08 685.82,92.82 693.3,93.57 694.04,91.08 691.55,89.08 692.05,86.59 686.32,85.34 687.06,81.6 682.58,84.09 677.59,91.08M505.57,83.34 512.55,84.84 517.53,89.08 513.79,88.58 505.57,83.34M493.85,75.36 497.09,75.61 498.34,79.85 495.1,77.86 493.85,75.36M596.07,93.32 602.3,90.33 609.78,89.08 614.27,92.82 613.52,93.82 607.29,93.57 599.81,93.57 596.07,93.32M606.54,105.29 610.28,105.29 610.28,100.3 613.52,96.06 616.01,95.32 619.75,96.56 622.24,97.81 621.75,102.05 619.75,102.8 617.26,100.3 617.76,97.81 614.27,96.06 608.53,96.56 606.54,101.55 606.54,105.29M617.76,106.04 623.49,105.79 628.48,103.55 624.74,103.8 617.76,106.04M626.73,102.05 633.46,102.05 635.21,100.3 630.97,100.3 626.73,102.05M613.52,155.17 619.75,152.68 625.98,152.68 633.46,156.42 640.44,159.66 632.22,160.41 630.97,158.41 624.74,155.17 621,154.17 616.01,155.67 613.52,155.17M639.7,164.15 643.43,160.41 650.91,160.66 654.65,163.9 649.67,164.4 646.68,165.65 639.7,164.15M630.22,164.4 635.21,165.15M657.89,164.65 661.63,164.4M672.11,183.35 673.35,184.85M672.11,170.14 673.35,173.88M630.97,143.45 633.46,144.45M630.47,148.44 631.72,150.18M811.72,85.34 817.95,83.59 828.67,82.35 826.68,81.6 829.67,78.61 826.18,77.86 824.93,74.12 821.69,72.87 820.45,70.38 817.2,70.38 820.45,66.39 815.46,66.39 817.95,63.89 812.97,63.89 810.47,66.64 811.72,70.38 813.46,72.87 817.45,73.12 817.95,75.86 814.21,77.11 814.96,79.6 812.47,80.85 817.95,81.6 811.72,85.34M810.47,79.85 810.47,75.36 811.72,73.87 807.98,72.37 804.24,74.12 800.5,74.87 801.75,77.86 799.75,80.35 801.75,81.6 805.49,80.85 810.47,79.85M856.6,115.27 864.07,114.77 863.08,118.51 856.6,116.27 856.6,115.27M845.87,107.79 849.61,107.79 849.37,112.28 846.62,112.77 845.87,107.79M846.87,104.05 849.12,102.8 848.87,106.54 847.12,106.29 846.87,104.05M884.02,121.5 891,122.25M8.44,122.75 13.93,121.25 12.18,123.25 8.44,122.75M436.51,160.16 439,161.41 437.01,162.65 436.51,160.16M434.76,157.92 436.51,158.41M431.02,156.42 432.27,156.92M427.28,154.92 428.28,155.17M187.2,81.6 192.18,79.11 198.42,75.36 201.66,71.12 199.66,71.62 194.68,77.86 187.2,81.6M111.16,94.07 117.39,93.57 124.87,94.07 117.39,94.57 111.16,94.07M74.26,95.81 75.76,93.82 78.75,93.57 80.99,95.32 79.99,98.31 77.5,100.8 74.76,100.3 73.51,97.81 74.26,95.81M7.69,209.29 12.68,210.04 11.43,215.78 7.69,215.78 7.69,209.29M1.46,218.77 3.95,231.24M898.98,218.77 901.47,231.24M12.68,234.23 15.17,244.96M673.35,338.48 680.83,338.48 678.34,340.23 673.35,338.48M99.44,332.25 103.68,332.99 101.19,333.99 99.44,332.25M654.65,342.22 649.67,340.98 645.93,343.47M65.78,262.41 67.03,262.91M71.02,260.42 71.77,260.92M597.31,211.29 598.56,212.53M359.22,79.6 362.21,78.86M367.95,79.6 370.94,78.86M379.17,79.6 382.16,78.86M384.15,79.6 387.14,78.86M390.39,79.6 393.38,78.86M399.11,77.36 402.1,76.36M405.34,77.36 408.34,76.36M410.33,77.36 413.32,76.36M731.94,344.97 735.68,346.21M395.12,243.71 397.86,244.71" fill="none" stroke="#000" stroke-width="1.6" stroke-linejoin="round" stroke-linecap="round"/>
<path d="M77.76,60.4V359.7M152.55,60.4V359.7M227.34,60.4V359.7M302.13,60.4V359.7M376.92,60.4V359.7M451.71,60.4V359.7M526.5,60.4V359.7M601.29,60.4V359.7M676.08,60.4V359.7M750.87,60.4V359.7M825.66,60.4V359.7M5.7,135.22H900M5.7,210.04H900M5.7,284.86H900" fill="none" stroke="#000" stroke-width="1.6"/>
<path d="M9.2,66.64h0M21.67,66.64h0M158.78,66.64h0M283.43,66.64h0M295.9,66.64h0M308.36,66.64h0M320.83,66.64h0M358.22,66.64h0M395.62,66.64h0M607.52,66.64h0M619.99,66.64h0M694.78,66.64h0M707.24,66.64h0M806.96,66.64h0M819.43,66.64h0M831.89,66.64h0M844.36,66.64h0M856.82,66.64h0M869.29,66.64h0M881.75,66.64h0M894.22,66.64h0M9.2,79.11h0M146.32,79.11h0M158.78,79.11h0M171.25,79.11h0M183.71,79.11h0M246.04,79.11h0M283.43,79.11h0M295.9,79.11h0M308.36,79.11h0M345.76,79.11h0M358.22,79.11h0M370.69,79.11h0M383.15,79.11h0M395.62,79.11h0M408.08,79.11h0M420.55,79.11h0M433.01,79.11h0M445.48,79.11h0M457.94,79.11h0M669.85,79.11h0M744.64,79.11h0M757.1,79.11h0M769.57,79.11h0M782.03,79.11h0M806.96,79.11h0M819.43,79.11h0M831.89,79.11h0M844.36,79.11h0M856.82,79.11h0M869.29,79.11h0M881.75,79.11h0M894.22,79.11h0M9.2,91.58h0M270.97,91.58h0M345.76,91.58h0M358.22,91.58h0M445.48,91.58h0M457.94,91.58h0M520.27,91.58h0M532.73,91.58h0M582.59,91.58h0M595.06,91.58h0M607.52,91.58h0M619.99,91.58h0M632.45,91.58h0M644.92,91.58h0M657.38,91.58h0M669.85,91.58h0M682.31,91.58h0M757.1,91.58h0M769.57,91.58h0M806.96,91.58h0M819.43,91.58h0M831.89,91.58h0M844.36,91.58h0M856.82,91.58h0M869.29,91.58h0M881.75,91.58h0M894.22,91.58h0M9.2,104.05h0M146.32,104.05h0M208.64,104.05h0M221.11,104.05h0M258.5,104.05h0M270.97,104.05h0M283.43,104.05h0M308.36,104.05h0M320.83,104.05h0M333.29,104.05h0M345.76,104.05h0M358.22,104.05h0M370.69,104.05h0M383.15,104.05h0M395.62,104.05h0M445.48,104.05h0M457.94,104.05h0M470.41,104.05h0M482.87,104.05h0M495.34,104.05h0M520.27,104.05h0M532.73,104.05h0M545.2,104.05h0M582.59,104.05h0M595.06,104.05h0M607.52,104.05h0M619.99,104.05h0M632.45,104.05h0M644.92,104.05h0M657.38,104.05h0M669.85,104.05h0M682.31,104.05h0M694.78,104.05h0M707.24,104.05h0M719.71,104.05h0M732.17,104.05h0M744.64,104.05h0M782.03,104.05h0M794.5,104.05h0M806.96,104.05h0M819.43,104.05h0M831.89,104.05h0M844.36,104.05h0M856.82,104.05h0M869.29,104.05h0M881.75,104.05h0M894.22,104.05h0M9.2,116.52h0M96.46,116.52h0M108.92,116.52h0M121.39,116.52h0M171.25,116.52h0M183.71,116.52h0M246.04,116.52h0M258.5,116.52h0M270.97,116.52h0M283.43,116.52h0M295.9,116.52h0M308.36,116.52h0M320.83,116.52h0M333.29,116.52h0M345.76,116.52h0M358.22,116.52h0M370.69,116.52h0M383.15,116.52h0M395.62,116.52h0M408.08,116.52h0M420.55,116.52h0M433.01,116.52h0M445.48,116.52h0M457.94,116.52h0M470.41,116.52h0M482.87,116.52h0M495.34,116.52h0M520.27,116.52h0M532.73,116.52h0M545.2,116.52h0M557.66,116.52h0M570.13,116.52h0M582.59,116.52h0M595.06,116.52h0M607.52,116.52h0M619.99,116.52h0M632.45,116.52h0M644.92,116.52h0M657.38,116.52h0M669.85,116.52h0M682.31,116.52h0M694.78,116.52h0M707.24,116.52h0M719.71,116.52h0M732.17,116.52h0M744.64,116.52h0M757.1,116.52h0M769.57,116.52h0M806.96,116.52h0M819.43,116.52h0M831.89,116.52h0M844.36,116.52h0M856.82,116.52h0M869.29,116.52h0M881.75,116.52h0M894.22,116.52h0M9.2,128.99h0M21.67,128.99h0M34.13,128.99h0M46.6,128.99h0M59.06,128.99h0M146.32,128.99h0M158.78,128.99h0M171.25,128.99h0M183.71,128.99h0M196.18,128.99h0M233.57,128.99h0M246.04,128.99h0M258.5,128.99h0M270.97,128.99h0M283.43,128.99h0M295.9,128.99h0M308.36,128.99h0M320.83,128.99h0M333.29,128.99h0M345.76,128.99h0M358.22,128.99h0M370.69,128.99h0M383.15,128.99h0M395.62,128.99h0M408.08,128.99h0M420.55,128.99h0M433.01,128.99h0M445.48,128.99h0M457.94,128.99h0M470.41,128.99h0M482.87,128.99h0M557.66,128.99h0M570.13,128.99h0M582.59,128.99h0M595.06,128.99h0M607.52,128.99h0M619.99,128.99h0M632.45,128.99h0M644.92,128.99h0M657.38,128.99h0M669.85,128.99h0M682.31,128.99h0M694.78,128.99h0M707.24,128.99h0M719.71,128.99h0M732.17,128.99h0M744.64,128.99h0M757.1,128.99h0M794.5,128.99h0M806.96,128.99h0M819.43,128.99h0M831.89,128.99h0M844.36,128.99h0M856.82,128.99h0M869.29,128.99h0M881.75,128.99h0M894.22,128.99h0M83.99,141.46h0M96.46,141.46h0M108.92,141.46h0M121.39,141.46h0M158.78,141.46h0M171.25,141.46h0M183.71,141.46h0M196.18,141.46h0M221.11,141.46h0M233.57,141.46h0M246.04,141.46h0M258.5,141.46h0M270.97,141.46h0M283.43,141.46h0M445.48,141.46h0M457.94,141.46h0M557.66,141.46h0M570.13,141.46h0M582.59,141.46h0M595.06,141.46h0M607.52,141.46h0M619.99,141.46h0M632.45,141.46h0M644.92,141.46h0M657.38,141.46h0M669.85,141.46h0M682.31,141.46h0M694.78,141.46h0M707.24,141.46h0M719.71,141.46h0M782.03,141.46h0M794.5,141.46h0M844.36,141.46h0M856.82,141.46h0M869.29,141.46h0M881.75,141.46h0M894.22,141.46h0M9.2,153.93h0M21.67,153.93h0M34.13,153.93h0M46.6,153.93h0M59.06,153.93h0M71.53,153.93h0M83.99,153.93h0M96.46,153.93h0M108.92,153.93h0M121.39,153.93h0M133.85,153.93h0M320.83,153.93h0M557.66,153.93h0M570.13,153.93h0M582.59,153.93h0M595.06,153.93h0M607.52,153.93h0M619.99,153.93h0M632.45,153.93h0M644.92,153.93h0M657.38,153.93h0M769.57,153.93h0M782.03,153.93h0M794.5,153.93h0M806.96,153.93h0M819.43,153.93h0M9.2,166.4h0M21.67,166.4h0M34.13,166.4h0M46.6,166.4h0M59.06,166.4h0M71.53,166.4h0M83.99,166.4h0M96.46,166.4h0M108.92,166.4h0M320.83,166.4h0M557.66,166.4h0M570.13,166.4h0M582.59,166.4h0M607.52,166.4h0M682.31,166.4h0M694.78,166.4h0M707.24,166.4h0M719.71,166.4h0M782.03,166.4h0M794.5,166.4h0M806.96,166.4h0M819.43,166.4h0M869.29,166.4h0M881.75,166.4h0M894.22,166.4h0M9.2,178.87h0M21.67,178.87h0M34.13,178.87h0M46.6,178.87h0M59.06,178.87h0M71.53,178.87h0M83.99,178.87h0M96.46,178.87h0M283.43,178.87h0M308.36,178.87h0M320.83,178.87h0M333.29,178.87h0M345.76,178.87h0M358.22,178.87h0M769.57,178.87h0M794.5,178.87h0M806.96,178.87h0M856.82,178.87h0M869.29,178.87h0M881.75,178.87h0M894.22,178.87h0M21.67,191.34h0M34.13,191.34h0M46.6,191.34h0M59.06,191.34h0M71.53,191.34h0M171.25,191.34h0M295.9,191.34h0M333.29,191.34h0M345.76,191.34h0M607.52,191.34h0M644.92,191.34h0M657.38,191.34h0M669.85,191.34h0M682.31,191.34h0M694.78,191.34h0M707.24,191.34h0M782.03,191.34h0M881.75,191.34h0M21.67,203.81h0M34.13,203.81h0M46.6,203.81h0M59.06,203.81h0M158.78,203.81h0M545.2,203.81h0M557.66,203.81h0M595.06,203.81h0M607.52,203.81h0M619.99,203.81h0M644.92,203.81h0M657.38,203.81h0M669.85,203.81h0M682.31,203.81h0M694.78,203.81h0M707.24,203.81h0M744.64,203.81h0M769.57,203.81h0M782.03,203.81h0M856.82,203.81h0M869.29,203.81h0M881.75,203.81h0M21.67,216.28h0M34.13,216.28h0M46.6,216.28h0M59.06,216.28h0M108.92,216.28h0M121.39,216.28h0M133.85,216.28h0M146.32,216.28h0M158.78,216.28h0M171.25,216.28h0M183.71,216.28h0M520.27,216.28h0M532.73,216.28h0M545.2,216.28h0M557.66,216.28h0M644.92,216.28h0M657.38,216.28h0M669.85,216.28h0M682.31,216.28h0M694.78,216.28h0M707.24,216.28h0M719.71,216.28h0M744.64,216.28h0M831.89,216.28h0M844.36,216.28h0M856.82,216.28h0M869.29,216.28h0M881.75,216.28h0M9.2,228.75h0M21.67,228.75h0M46.6,228.75h0M108.92,228.75h0M121.39,228.75h0M133.85,228.75h0M146.32,228.75h0M158.78,228.75h0M171.25,228.75h0M383.15,228.75h0M395.62,228.75h0M408.08,228.75h0M420.55,228.75h0M433.01,228.75h0M445.48,228.75h0M457.94,228.75h0M470.41,228.75h0M482.87,228.75h0M520.27,228.75h0M532.73,228.75h0M545.2,228.75h0M557.66,228.75h0M570.13,228.75h0M582.59,228.75h0M595.06,228.75h0M632.45,228.75h0M644.92,228.75h0M657.38,228.75h0M669.85,228.75h0M682.31,228.75h0M694.78,228.75h0M707.24,228.75h0M719.71,228.75h0M732.17,228.75h0M831.89,228.75h0M844.36,228.75h0M856.82,228.75h0M869.29,228.75h0M881.75,228.75h0M9.2,241.22h0M21.67,241.22h0M34.13,241.22h0M46.6,241.22h0M96.46,241.22h0M108.92,241.22h0M121.39,241.22h0M133.85,241.22h0M146.32,241.22h0M158.78,241.22h0M233.57,241.22h0M246.04,241.22h0M258.5,241.22h0M270.97,241.22h0M433.01,241.22h0M445.48,241.22h0M457.94,241.22h0M470.41,241.22h0M482.87,241.22h0M495.34,241.22h0M532.73,241.22h0M545.2,241.22h0M557.66,241.22h0M570.13,241.22h0M582.59,241.22h0M595.06,241.22h0M607.52,241.22h0M619.99,241.22h0M644.92,241.22h0M657.38,241.22h0M669.85,241.22h0M682.31,241.22h0M694.78,241.22h0M707.24,241.22h0M719.71,241.22h0M732.17,241.22h0M769.57,241.22h0M782.03,241.22h0M794.5,241.22h0M806.96,241.22h0M844.36,241.22h0M869.29,241.22h0M881.75,241.22h0M894.22,241.22h0M9.2,253.69h0M21.67,253.69h0M34.13,253.69h0M46.6,253.69h0M96.46,253.69h0M108.92,253.69h0M121.39,253.69h0M221.11,253.69h0M233.57,253.69h0M345.76,253.69h0M358.22,253.69h0M370.69,253.69h0M383.15,253.69h0M395.62,253.69h0M408.08,253.69h0M420.55,253.69h0M482.87,253.69h0M495.34,253.69h0M545.2,253.69h0M557.66,253.69h0M570.13,253.69h0M582.59,253.69h0M595.06,253.69h0M607.52,253.69h0M619.99,253.69h0M632.45,253.69h0M657.38,253.69h0M669.85,253.69h0M682.31,253.69h0M694.78,253.69h0M707.24,253.69h0M719.71,253.69h0M757.1,253.69h0M769.57,253.69h0M782.03,253.69h0M794.5,253.69h0M806.96,253.69h0M869.29,253.69h0M881.75,253.69h0M894.22,253.69h0M9.2,266.16h0M21.67,266.16h0M34.13,266.16h0M46.6,266.16h0M59.06,266.16h0M71.53,266.16h0M83.99,266.16h0M96.46,266.16h0M108.92,266.16h0M395.62,266.16h0M408.08,266.16h0M420.55,266.16h0M433.01,266.16h0M445.48,266.16h0M457.94,266.16h0M507.8,266.16h0M570.13,266.16h0M582.59,266.16h0M595.06,266.16h0M607.52,266.16h0M619.99,266.16h0M632.45,266.16h0M657.38,266.16h0M669.85,266.16h0M682.31,266.16h0M694.78,266.16h0M707.24,266.16h0M719.71,266.16h0M769.57,266.16h0M782.03,266.16h0M794.5,266.16h0M806.96,266.16h0M819.43,266.16h0M831.89,266.16h0M869.29,266.16h0M881.75,266.16h0M894.22,266.16h0M9.2,278.62h0M34.13,278.62h0M46.6,278.62h0M59.06,278.62h0M71.53,278.62h0M83.99,278.62h0M96.46,278.62h0M108.92,278.62h0M121.39,278.62h0M171.25,278.62h0M183.71,278.62h0M196.18,278.62h0M208.64,278.62h0M221.11,278.62h0M283.43,278.62h0M295.9,278.62h0M308.36,278.62h0M320.83,278.62h0M333.29,278.62h0M345.76,278.62h0M358.22,278.62h0M507.8,278.62h0M520.27,278.62h0M532.73,278.62h0M545.2,278.62h0M557.66,278.62h0M570.13,278.62h0M607.52,278.62h0M619.99,278.62h0M632.45,278.62h0M657.38,278.62h0M669.85,278.62h0M682.31,278.62h0M732.17,278.62h0M794.5,278.62h0M806.96,278.62h0M819.43,278.62h0M856.82,278.62h0M869.29,278.62h0M881.75,278.62h0M894.22,278.62h0M133.85,291.1h0M146.32,291.1h0M158.78,291.1h0M171.25,291.1h0M183.71,291.1h0M196.18,291.1h0M208.64,291.1h0M221.11,291.1h0M233.57,291.1h0M258.5,291.1h0M270.97,291.1h0M283.43,291.1h0M295.9,291.1h0M308.36,291.1h0M320.83,291.1h0M333.29,291.1h0M345.76,291.1h0M358.22,291.1h0M370.69,291.1h0M383.15,291.1h0M395.62,291.1h0M408.08,291.1h0M520.27,291.1h0M532.73,291.1h0M545.2,291.1h0M557.66,291.1h0M570.13,291.1h0M582.59,291.1h0M595.06,291.1h0M607.52,291.1h0M644.92,291.1h0M657.38,291.1h0M669.85,291.1h0M707.24,291.1h0M732.17,291.1h0M744.64,291.1h0M757.1,291.1h0M769.57,291.1h0M844.36,291.1h0M881.75,291.1h0M121.39,303.56h0M133.85,303.56h0M146.32,303.56h0M158.78,303.56h0M171.25,303.56h0M183.71,303.56h0M196.18,303.56h0M208.64,303.56h0M221.11,303.56h0M233.57,303.56h0M246.04,303.56h0M258.5,303.56h0M270.97,303.56h0M283.43,303.56h0M295.9,303.56h0M308.36,303.56h0M320.83,303.56h0M333.29,303.56h0M345.76,303.56h0M358.22,303.56h0M370.69,303.56h0M383.15,303.56h0M395.62,303.56h0M408.08,303.56h0M420.55,303.56h0M433.01,303.56h0M445.48,303.56h0M557.66,303.56h0M570.13,303.56h0M582.59,303.56h0M595.06,303.56h0M607.52,303.56h0M619.99,303.56h0M632.45,303.56h0M644.92,303.56h0M657.38,303.56h0M669.85,303.56h0M682.31,303.56h0M719.71,303.56h0M732.17,303.56h0M744.64,303.56h0M757.1,303.56h0M769.57,303.56h0M782.03,303.56h0M794.5,303.56h0M806.96,303.56h0M819.43,303.56h0M831.89,303.56h0M844.36,303.56h0M856.82,303.56h0M869.29,303.56h0M83.99,316.04h0M96.46,316.04h0M108.92,316.04h0M121.39,316.04h0M133.85,316.04h0M146.32,316.04h0M158.78,316.04h0M171.25,316.04h0M183.71,316.04h0M196.18,316.04h0M208.64,316.04h0M221.11,316.04h0M233.57,316.04h0M246.04,316.04h0M258.5,316.04h0M270.97,316.04h0M283.43,316.04h0M295.9,316.04h0M308.36,316.04h0M320.83,316.04h0M333.29,316.04h0M345.76,316.04h0M358.22,316.04h0M370.69,316.04h0M383.15,316.04h0M395.62,316.04h0M408.08,316.04h0M420.55,316.04h0M433.01,316.04h0M607.52,316.04h0M619.99,316.04h0M632.45,316.04h0M644.92,316.04h0M657.38,316.04h0M669.85,316.04h0M682.31,316.04h0M694.78,316.04h0M707.24,316.04h0M719.71,316.04h0M732.17,316.04h0M744.64,316.04h0M757.1,316.04h0M769.57,316.04h0M782.03,316.04h0M794.5,316.04h0M806.96,316.04h0M819.43,316.04h0M831.89,316.04h0M844.36,316.04h0M856.82,316.04h0M869.29,316.04h0M881.75,316.04h0M894.22,316.04h0M121.39,328.5h0M133.85,328.5h0M146.32,328.5h0M233.57,328.5h0M420.55,328.5h0M657.38,328.5h0M669.85,328.5h0M682.31,328.5h0M694.78,328.5h0M707.24,328.5h0M719.71,328.5h0M732.17,328.5h0M744.64,328.5h0M757.1,328.5h0M769.57,328.5h0M782.03,328.5h0M794.5,328.5h0M806.96,328.5h0M819.43,328.5h0M831.89,328.5h0M844.36,328.5h0M856.82,328.5h0M869.29,328.5h0M881.75,328.5h0M46.6,340.97h0M59.06,340.97h0M71.53,340.97h0M83.99,340.97h0M96.46,340.97h0M669.85,340.97h0M682.31,340.97h0M694.78,340.97h0M707.24,340.97h0M881.75,340.97h0M894.22,340.97h0M9.2,353.44h0M21.67,353.44h0M34.13,353.44h0M46.6,353.44h0M59.06,353.44h0M71.53,353.44h0M83.99,353.44h0M96.46,353.44h0M108.92,353.44h0M121.39,353.44h0M133.85,353.44h0M146.32,353.44h0M158.78,353.44h0M171.25,353.44h0M183.71,353.44h0M196.18,353.44h0M208.64,353.44h0M221.11,353.44h0M233.57,353.44h0M246.04,353.44h0M308.36,353.44h0M320.83,353.44h0M333.29,353.44h0M345.76,353.44h0M433.01,353.44h0M445.48,353.44h0M457.94,353.44h0M470.41,353.44h0M482.87,353.44h0M669.85,353.44h0M707.24,353.44h0M719.71,353.44h0M732.17,353.44h0M744.64,353.44h0M757.1,353.44h0M769.57,353.44h0M782.03,353.44h0M794.5,353.44h0M806.96,353.44h0M819.43,353.44h0M831.89,353.44h0M844.36,353.44h0M856.82,353.44h0M869.29,353.44h0M881.75,353.44h0M894.22,353.44h0" fill="none" stroke="#000" stroke-width="5.7" stroke-linecap="round"/>
</g>
<rect x="5.7" y="60.4" width="894.3" height="299.3" fill="none" stroke="#000" stroke-width="3"/>
<rect x="17.4" y="73.7" width="46.6" height="48.5" fill="#fff" stroke="#000" stroke-width="1.6"/>
<text x="40.3" y="108.6" font-size="39.5" text-anchor="middle">a</text>
<text x="453.5" y="28.8" font-size="38.9" text-anchor="middle">CMIP5 ALL Cloud Trend (%-Amt / 25-Yr)</text>
<rect x="933" y="66.3" width="35.8" height="36" fill="#0c6b6b" stroke="#000" stroke-width="1.2"/>
<rect x="933" y="102.3" width="35.8" height="36" fill="#0cc5c6" stroke="#000" stroke-width="1.2"/>
<rect x="933" y="138.3" width="35.8" height="36" fill="#6ff6f6" stroke="#000" stroke-width="1.2"/>
<rect x="933" y="174.3" width="35.8" height="36" fill="#b3fbfb" stroke="#000" stroke-width="1.2"/>
<rect x="933" y="210.3" width="35.8" height="36" fill="#fee2cb" stroke="#000" stroke-width="1.2"/>
<rect x="933" y="246.3" width="35.8" height="36" fill="#fdab67" stroke="#000" stroke-width="1.2"/>
<rect x="933" y="282.3" width="35.8" height="36" fill="#cf5a06" stroke="#000" stroke-width="1.2"/>
<rect x="933" y="318.3" width="35.8" height="36" fill="#6b2a08" stroke="#000" stroke-width="1.2"/>
<text x="1011.3" y="116.08" font-size="38.5" text-anchor="middle">0.6</text>
<text x="1011.3" y="152.08" font-size="38.5" text-anchor="middle">0.3</text>
<text x="1011.3" y="188.08" font-size="38.5" text-anchor="middle">0.1</text>
<text x="1011.3" y="224.08" font-size="38.5" text-anchor="middle">0.0</text>
<text x="1011.3" y="260.08" font-size="38.5" text-anchor="middle">-0.1</text>
<text x="1011.3" y="296.08" font-size="38.5" text-anchor="middle">-0.3</text>
<text x="1011.3" y="332.08" font-size="38.5" text-anchor="middle">-0.6</text>
<text x="519.5" y="428.2" font-size="39.2" text-anchor="middle">CMIP5 ALL Cloud Trend</text>
<path d="M172.6,590.5H867.1" stroke="#222" stroke-width="1"/>
<path d="M181.68,514V612.5M201.74,541.5V635M224.22,565V660M248.96,583.5V687.5M275.76,600V672.5M304.41,579V682.5M334.7,558.5V686M366.41,535V655M399.28,530V648.5M433.06,536V668.5M467.51,550V672.5M502.36,528.5V660M537.34,515V685M572.19,502.5V657.5M606.64,505V645M640.42,511V647.5M673.29,516.5V654M705,565V680M735.29,595V710M763.94,602.5V710M790.74,590V684M815.48,571.5V676M837.96,574V666M858.02,544V647.5" stroke="#000" stroke-width="1.4" fill="none"/>
<path d="M172.6,554.5 181.68,559 201.74,571 224.22,594 248.96,619 275.76,645 304.41,675 334.7,690 366.41,690 399.28,675 433.06,652.5 467.51,629 502.36,620 537.34,615 572.19,621 606.64,645 640.42,672.5 673.29,698.5 705,697.5 735.29,676.5 763.94,655 790.74,640 815.48,626 837.96,607.5 858.02,600 867.1,598.5" stroke="#d40c0c" stroke-width="1.5" stroke-dasharray="3.4,2.8" fill="none"/>
<path d="M172.6,554 181.68,566 201.74,587.5 224.22,611 248.96,635 275.76,640 304.41,633.5 334.7,620 366.41,598.5 399.28,591 433.06,605 467.51,612.5 502.36,605 537.34,593.5 572.19,583.5 606.64,579 640.42,579 673.29,591 705,621.5 735.29,655 763.94,664 790.74,642.5 815.48,627.5 837.96,617.5 858.02,595 867.1,580" stroke="#000" stroke-width="1.5" fill="none" stroke-linejoin="round"/>
<circle cx="181.68" cy="566" r="11.4" fill="none" stroke="#000" stroke-width="1.4"/>
<circle cx="224.22" cy="611" r="11.4" fill="none" stroke="#000" stroke-width="1.4"/>
<circle cx="248.96" cy="635" r="11.4" fill="none" stroke="#000" stroke-width="1.4"/>
<circle cx="275.76" cy="640" r="11.4" fill="none" stroke="#000" stroke-width="1.4"/>
<circle cx="304.41" cy="633.5" r="11.4" fill="none" stroke="#000" stroke-width="1.4"/>
<circle cx="334.7" cy="620" r="11.4" fill="none" stroke="#000" stroke-width="1.4"/>
<circle cx="433.06" cy="605" r="11.4" fill="none" stroke="#000" stroke-width="1.4"/>
<circle cx="467.51" cy="612.5" r="11.4" fill="none" stroke="#000" stroke-width="1.4"/>
<circle cx="502.36" cy="605" r="11.4" fill="none" stroke="#000" stroke-width="1.4"/>
<circle cx="705" cy="621.5" r="11.4" fill="none" stroke="#000" stroke-width="1.4"/>
<circle cx="735.29" cy="655" r="11.4" fill="none" stroke="#000" stroke-width="1.4"/>
<circle cx="763.94" cy="664" r="11.4" fill="none" stroke="#000" stroke-width="1.4"/>
<circle cx="790.74" cy="642.5" r="11.4" fill="none" stroke="#000" stroke-width="1.4"/>
<circle cx="815.48" cy="627.5" r="11.4" fill="none" stroke="#000" stroke-width="1.4"/>
<circle cx="837.96" cy="617.5" r="11.4" fill="none" stroke="#000" stroke-width="1.4"/>
<rect x="172.6" y="470.5" width="694.5" height="240.1" fill="none" stroke="#000" stroke-width="2.9"/>
<path d="M172.6,470.5v-15.5M172.6,710.6v15.5M262.11,470.5v-15.5M262.11,710.6v15.5M382.71,470.5v-15.5M382.71,710.6v15.5M519.85,470.5v-15.5M519.85,710.6v15.5M656.99,470.5v-15.5M656.99,710.6v15.5M777.59,470.5v-15.5M777.59,710.6v15.5M867.1,470.5v-15.5M867.1,710.6v15.5M172.6,470.5h-15.5M172.6,530.5h-15.5M172.6,590.5h-15.5M172.6,650.5h-15.5M172.6,710.5h-15.5" stroke="#000" stroke-width="2.9" stroke-linecap="round" fill="none"/>
<path d="M212.69,470.5v-8.7M212.69,710.6v8.7M319.37,470.5v-8.7M319.37,710.6v8.7M450.22,470.5v-8.7M450.22,710.6v8.7M589.48,470.5v-8.7M589.48,710.6v8.7M720.33,470.5v-8.7M720.33,710.6v8.7M827.01,470.5v-8.7M827.01,710.6v8.7M172.6,500.5h-8.7M172.6,560.5h-8.7M172.6,620.5h-8.7M172.6,680.5h-8.7" stroke="#000" stroke-width="1.5" fill="none"/>
<path d="M868.5,470.5h15.5M868.5,530.5h15.5M868.5,590.5h15.5M868.5,650.5h15.5M868.5,710.5h15.5" stroke="#e10505" stroke-width="2.9" stroke-linecap="round" fill="none"/>
<path d="M867.1,500.5h8.5M867.1,560.5h8.5M867.1,620.5h8.5M867.1,680.5h8.5" stroke="#e10505" stroke-width="1.5" fill="none"/>
<text x="172.6" y="783" font-size="38.8" text-anchor="middle">60S</text>
<text x="262.11" y="783" font-size="38.8" text-anchor="middle">40S</text>
<text x="382.71" y="783" font-size="38.8" text-anchor="middle">20S</text>
<text x="519.85" y="783" font-size="38.8" text-anchor="middle">Eq</text>
<text x="656.99" y="783" font-size="38.8" text-anchor="middle">20N</text>
<text x="777.59" y="783" font-size="38.8" text-anchor="middle">40N</text>
<text x="867.1" y="783" font-size="38.8" text-anchor="middle">60N</text>
<text x="131" y="484.79" font-size="38.8" text-anchor="end">0.8</text>
<text x="131" y="544.79" font-size="38.8" text-anchor="end">0.4</text>
<text x="131" y="604.79" font-size="38.8" text-anchor="end">0.0</text>
<text x="131" y="664.79" font-size="38.8" text-anchor="end">-0.4</text>
<text x="131" y="724.79" font-size="38.8" text-anchor="end">-0.8</text>
<text x="908.3" y="484.39" font-size="38.8" style="fill:#e10505">100</text>
<text x="908.3" y="544.39" font-size="38.8" style="fill:#e10505">85</text>
<text x="908.3" y="604.39" font-size="38.8" style="fill:#e10505">70</text>
<text x="908.3" y="664.39" font-size="38.8" style="fill:#e10505">55</text>
<text x="908.3" y="724.39" font-size="38.8" style="fill:#e10505">40</text>
<text transform="translate(37.5,590.8) rotate(-90)" font-size="38.8" text-anchor="middle">%-Amt / 25-Yr</text>
<text transform="translate(1022.4,591) rotate(-90)" font-size="38.5" text-anchor="middle" style="fill:#e10505">Clim (%-Amt)</text>
<rect x="180.7" y="647.6" width="46.1" height="57.1" fill="#fff" stroke="#000" stroke-width="1.4"/>
<text x="203" y="690.2" font-size="39.5" text-anchor="middle">b</text>
<text x="533.6" y="848.6" font-size="38.9" text-anchor="middle">CMIP5 ALL Cloud Trend (%-Amt / 25-Yr)</text>
<g shape-rendering="crispEdges">
<rect x="186" y="897.6" width="40.36" height="49.83" fill="#78f7f7"/>
<rect x="226.06" y="897.6" width="106.9" height="49.83" fill="#b8fbfb"/>
<rect x="332.66" y="897.6" width="63.6" height="49.83" fill="#78f7f7"/>
<rect x="395.96" y="897.6" width="33.64" height="49.83" fill="#1bc8c9"/>
<rect x="429.3" y="897.6" width="241.04" height="49.83" fill="#1b7474"/>
<rect x="670.04" y="897.6" width="32.59" height="49.83" fill="#1bc8c9"/>
<rect x="702.34" y="897.6" width="88.52" height="49.83" fill="#78f7f7"/>
<rect x="790.55" y="897.6" width="89.75" height="49.83" fill="#b8fbfb"/>
<rect x="186" y="947.13" width="40.36" height="49.83" fill="#1b7474"/>
<rect x="226.06" y="947.13" width="23.92" height="49.83" fill="#1bc8c9"/>
<rect x="249.68" y="947.13" width="26.07" height="49.83" fill="#78f7f7"/>
<rect x="275.45" y="947.13" width="28.03" height="49.83" fill="#fee4ce"/>
<rect x="303.18" y="947.13" width="60.79" height="49.83" fill="#fdb070"/>
<rect x="363.66" y="947.13" width="65.93" height="49.83" fill="#d26415"/>
<rect x="429.3" y="947.13" width="69.08" height="49.83" fill="#743717"/>
<rect x="498.08" y="947.13" width="172.26" height="49.83" fill="#d26415"/>
<rect x="670.04" y="947.13" width="63.6" height="49.83" fill="#fdb070"/>
<rect x="733.34" y="947.13" width="29.78" height="49.83" fill="#fee4ce"/>
<rect x="762.82" y="947.13" width="28.03" height="49.83" fill="#b8fbfb"/>
<rect x="790.55" y="947.13" width="26.07" height="49.83" fill="#78f7f7"/>
<rect x="816.32" y="947.13" width="23.92" height="49.83" fill="#1bc8c9"/>
<rect x="839.94" y="947.13" width="40.36" height="49.83" fill="#1b7474"/>
<rect x="186" y="996.66" width="19.08" height="49.83" fill="#b8fbfb"/>
<rect x="204.78" y="996.66" width="21.58" height="49.83" fill="#fdb070"/>
<rect x="226.06" y="996.66" width="137.9" height="49.83" fill="#d26415"/>
<rect x="363.66" y="996.66" width="100.06" height="49.83" fill="#fdb070"/>
<rect x="463.42" y="996.66" width="34.96" height="49.83" fill="#d26415"/>
<rect x="498.08" y="996.66" width="70.14" height="49.83" fill="#fdb070"/>
<rect x="567.92" y="996.66" width="34.96" height="49.83" fill="#d26415"/>
<rect x="602.58" y="996.66" width="100.06" height="49.83" fill="#fdb070"/>
<rect x="702.34" y="996.66" width="137.9" height="49.83" fill="#d26415"/>
<rect x="839.94" y="996.66" width="40.36" height="49.83" fill="#fdb070"/>
<rect x="186" y="1046.19" width="19.08" height="49.83" fill="#fee4ce"/>
<rect x="204.78" y="1046.19" width="21.58" height="49.83" fill="#fdb070"/>
<rect x="226.06" y="1046.19" width="106.9" height="49.83" fill="#d26415"/>
<rect x="332.66" y="1046.19" width="63.6" height="49.83" fill="#fdb070"/>
<rect x="395.96" y="1046.19" width="137.34" height="49.83" fill="#fee4ce"/>
<rect x="533" y="1046.19" width="35.22" height="49.83" fill="#b8fbfb"/>
<rect x="567.92" y="1046.19" width="102.42" height="49.83" fill="#fee4ce"/>
<rect x="670.04" y="1046.19" width="63.6" height="49.83" fill="#fdb070"/>
<rect x="733.34" y="1046.19" width="128.18" height="49.83" fill="#d26415"/>
<rect x="861.22" y="1046.19" width="19.08" height="49.83" fill="#fdb070"/>
<rect x="186" y="1095.71" width="19.08" height="49.83" fill="#b8fbfb"/>
<rect x="204.78" y="1095.71" width="21.58" height="49.83" fill="#fdb070"/>
<rect x="226.06" y="1095.71" width="77.42" height="49.83" fill="#d26415"/>
<rect x="303.18" y="1095.71" width="333.83" height="49.83" fill="#fdb070"/>
<rect x="636.7" y="1095.71" width="33.64" height="49.83" fill="#fee4ce"/>
<rect x="670.04" y="1095.71" width="93.08" height="49.83" fill="#fdb070"/>
<rect x="762.82" y="1095.71" width="98.7" height="49.83" fill="#d26415"/>
<rect x="861.22" y="1095.71" width="19.08" height="49.83" fill="#fdb070"/>
<rect x="186" y="1145.24" width="19.08" height="49.83" fill="#78f7f7"/>
<rect x="204.78" y="1145.24" width="21.58" height="49.83" fill="#fdb070"/>
<rect x="226.06" y="1145.24" width="77.42" height="49.83" fill="#d26415"/>
<rect x="303.18" y="1145.24" width="60.79" height="49.83" fill="#fdb070"/>
<rect x="363.66" y="1145.24" width="65.93" height="49.83" fill="#fee4ce"/>
<rect x="429.3" y="1145.24" width="104" height="49.83" fill="#fdb070"/>
<rect x="533" y="1145.24" width="169.64" height="49.83" fill="#fee4ce"/>
<rect x="702.34" y="1145.24" width="60.79" height="49.83" fill="#fdb070"/>
<rect x="762.82" y="1145.24" width="98.7" height="49.83" fill="#d26415"/>
<rect x="861.22" y="1145.24" width="19.08" height="49.83" fill="#fdb070"/>
<rect x="186" y="1194.77" width="19.08" height="49.83" fill="#78f7f7"/>
<rect x="204.78" y="1194.77" width="21.58" height="49.83" fill="#fee4ce"/>
<rect x="226.06" y="1194.77" width="77.42" height="49.83" fill="#fdb070"/>
<rect x="303.18" y="1194.77" width="29.78" height="49.83" fill="#fee4ce"/>
<rect x="332.66" y="1194.77" width="131.06" height="49.83" fill="#b8fbfb"/>
<rect x="463.42" y="1194.77" width="139.46" height="49.83" fill="#fee4ce"/>
<rect x="602.58" y="1194.77" width="34.43" height="49.83" fill="#b8fbfb"/>
<rect x="636.7" y="1194.77" width="96.94" height="49.83" fill="#fee4ce"/>
<rect x="733.34" y="1194.77" width="128.18" height="49.83" fill="#fdb070"/>
<rect x="861.22" y="1194.77" width="19.08" height="49.83" fill="#fee4ce"/>
</g>
<path d="M195.07,922.36h0M215.12,922.36h0M237.59,922.36h0M262.3,922.36h0M289.08,922.36h0M317.71,922.36h0M347.99,922.36h0M379.67,922.36h0M412.51,922.36h0M446.28,922.36h0M480.7,922.36h0M515.52,922.36h0M550.48,922.36h0M585.3,922.36h0M619.72,922.36h0M653.49,922.36h0M686.33,922.36h0M718.01,922.36h0M748.29,922.36h0M776.92,922.36h0M803.7,922.36h0M828.41,922.36h0M850.88,922.36h0M870.93,922.36h0M195.07,971.89h0M215.12,971.89h0M237.59,971.89h0M262.3,971.89h0M317.71,971.89h0M347.99,971.89h0M379.67,971.89h0M412.51,971.89h0M446.28,971.89h0M480.7,971.89h0M515.52,971.89h0M550.48,971.89h0M585.3,971.89h0M619.72,971.89h0M653.49,971.89h0M686.33,971.89h0M718.01,971.89h0M776.92,971.89h0M803.7,971.89h0M828.41,971.89h0M850.88,971.89h0M870.93,971.89h0M215.12,1021.42h0M237.59,1021.42h0M262.3,1021.42h0M289.08,1021.42h0M317.71,1021.42h0M347.99,1021.42h0M379.67,1021.42h0M412.51,1021.42h0M446.28,1021.42h0M480.7,1021.42h0M515.52,1021.42h0M550.48,1021.42h0M585.3,1021.42h0M619.72,1021.42h0M653.49,1021.42h0M686.33,1021.42h0M718.01,1021.42h0M748.29,1021.42h0M776.92,1021.42h0M803.7,1021.42h0M828.41,1021.42h0M850.88,1021.42h0M870.93,1021.42h0M195.07,1070.95h0M215.12,1070.95h0M237.59,1070.95h0M262.3,1070.95h0M289.08,1070.95h0M317.71,1070.95h0M347.99,1070.95h0M379.67,1070.95h0M412.51,1070.95h0M446.28,1070.95h0M480.7,1070.95h0M585.3,1070.95h0M619.72,1070.95h0M653.49,1070.95h0M686.33,1070.95h0M718.01,1070.95h0M748.29,1070.95h0M776.92,1070.95h0M803.7,1070.95h0M828.41,1070.95h0M850.88,1070.95h0M870.93,1070.95h0M195.07,1120.48h0M215.12,1120.48h0M237.59,1120.48h0M262.3,1120.48h0M289.08,1120.48h0M317.71,1120.48h0M347.99,1120.48h0M379.67,1120.48h0M412.51,1120.48h0M446.28,1120.48h0M480.7,1120.48h0M515.52,1120.48h0M550.48,1120.48h0M585.3,1120.48h0M619.72,1120.48h0M653.49,1120.48h0M686.33,1120.48h0M718.01,1120.48h0M748.29,1120.48h0M776.92,1120.48h0M803.7,1120.48h0M828.41,1120.48h0M850.88,1120.48h0M870.93,1120.48h0M195.07,1170.01h0M215.12,1170.01h0M237.59,1170.01h0M262.3,1170.01h0M289.08,1170.01h0M317.71,1170.01h0M347.99,1170.01h0M379.67,1170.01h0M412.51,1170.01h0M446.28,1170.01h0M480.7,1170.01h0M515.52,1170.01h0M550.48,1170.01h0M585.3,1170.01h0M619.72,1170.01h0M653.49,1170.01h0M686.33,1170.01h0M718.01,1170.01h0M748.29,1170.01h0M776.92,1170.01h0M803.7,1170.01h0M828.41,1170.01h0M850.88,1170.01h0M870.93,1170.01h0M195.07,1219.54h0M262.3,1219.54h0M289.08,1219.54h0M317.71,1219.54h0M379.67,1219.54h0M412.51,1219.54h0M480.7,1219.54h0M515.52,1219.54h0M550.48,1219.54h0M686.33,1219.54h0M718.01,1219.54h0M748.29,1219.54h0M776.92,1219.54h0M803.7,1219.54h0M828.41,1219.54h0M850.88,1219.54h0M870.93,1219.54h0" fill="none" stroke="#000" stroke-width="6.2" stroke-linecap="round"/>
<rect x="186" y="897.6" width="694" height="346.7" fill="none" stroke="#000" stroke-width="2.8"/>
<path d="M186,897.6v-17M186,1244.3v17M275.45,897.6v-17M275.45,1244.3v17M395.96,897.6v-17M395.96,1244.3v17M533,897.6v-17M533,1244.3v17M670.04,897.6v-17M670.04,1244.3v17M790.55,897.6v-17M790.55,1244.3v17M880,897.6v-17M880,1244.3v17M186,897.6h-17M880,897.6h17M186,947.13h-17M880,947.13h17M186,996.66h-17M880,996.66h17M186,1046.19h-17M880,1046.19h17M186,1095.71h-17M880,1095.71h17M186,1145.24h-17M880,1145.24h17M186,1194.77h-17M880,1194.77h17M186,1244.3h-17M880,1244.3h17" stroke="#000" stroke-width="2.9" stroke-linecap="round" fill="none"/>
<path d="M226.06,897.6v-9M226.06,1244.3v9M332.66,897.6v-9M332.66,1244.3v9M463.42,897.6v-9M463.42,1244.3v9M602.58,897.6v-9M602.58,1244.3v9M733.34,897.6v-9M733.34,1244.3v9M839.94,897.6v-9M839.94,1244.3v9" stroke="#000" stroke-width="1.5" fill="none"/>
<text x="186" y="1320" font-size="38.8" text-anchor="middle">60S</text>
<text x="275.45" y="1320" font-size="38.8" text-anchor="middle">40S</text>
<text x="395.96" y="1320" font-size="38.8" text-anchor="middle">20S</text>
<text x="533" y="1320" font-size="38.8" text-anchor="middle">Eq</text>
<text x="670.04" y="1320" font-size="38.8" text-anchor="middle">20N</text>
<text x="790.55" y="1320" font-size="38.8" text-anchor="middle">40N</text>
<text x="880" y="1320" font-size="38.8" text-anchor="middle">60N</text>
<text x="142.3" y="912.29" font-size="38.8" text-anchor="end">50</text>
<text x="142.3" y="961.82" font-size="38.8" text-anchor="end">180</text>
<text x="142.3" y="1011.35" font-size="38.8" text-anchor="end">310</text>
<text x="142.3" y="1060.88" font-size="38.8" text-anchor="end">440</text>
<text x="142.3" y="1110.4" font-size="38.8" text-anchor="end">560</text>
<text x="142.3" y="1159.93" font-size="38.8" text-anchor="end">680</text>
<text x="142.3" y="1209.46" font-size="38.8" text-anchor="end">800</text>
<text x="142.3" y="1258.99" font-size="38.8" text-anchor="end">1000</text>
<text transform="translate(28.6,1072.3) rotate(-90)" font-size="38.2" text-anchor="middle">Pressure (hPa)</text>
<rect x="194.6" y="1185.4" width="44.7" height="49.2" fill="#fff" stroke="#000" stroke-width="1.4"/>
<text x="217.3" y="1220.3" font-size="39.5" text-anchor="middle">c</text>
<rect x="939.8" y="903.4" width="36.2" height="41.97" fill="#0c6b6b" stroke="#000" stroke-width="1.2"/>
<rect x="939.8" y="945.37" width="36.2" height="41.97" fill="#0cc5c6" stroke="#000" stroke-width="1.2"/>
<rect x="939.8" y="987.34" width="36.2" height="41.97" fill="#6ff6f6" stroke="#000" stroke-width="1.2"/>
<rect x="939.8" y="1029.31" width="36.2" height="41.97" fill="#b3fbfb" stroke="#000" stroke-width="1.2"/>
<rect x="939.8" y="1071.28" width="36.2" height="41.97" fill="#fee2cb" stroke="#000" stroke-width="1.2"/>
<rect x="939.8" y="1113.25" width="36.2" height="41.97" fill="#fdab67" stroke="#000" stroke-width="1.2"/>
<rect x="939.8" y="1155.22" width="36.2" height="41.97" fill="#cf5a06" stroke="#000" stroke-width="1.2"/>
<rect x="939.8" y="1197.19" width="36.2" height="41.97" fill="#6b2a08" stroke="#000" stroke-width="1.2"/>
<text x="1018.1" y="959.15" font-size="38.5" text-anchor="middle">0.6</text>
<text x="1018.1" y="1001.12" font-size="38.5" text-anchor="middle">0.3</text>
<text x="1018.1" y="1043.09" font-size="38.5" text-anchor="middle">0.1</text>
<text x="1018.1" y="1085.06" font-size="38.5" text-anchor="middle">0.0</text>
<text x="1018.1" y="1127.03" font-size="38.5" text-anchor="middle">-0.1</text>
<text x="1018.1" y="1169" font-size="38.5" text-anchor="middle">-0.3</text>
<text x="1018.1" y="1210.97" font-size="38.5" text-anchor="middle">-0.6</text>
</svg></body></html>
